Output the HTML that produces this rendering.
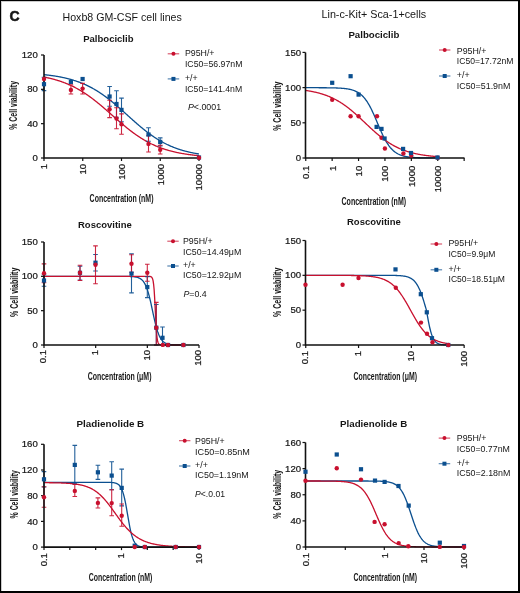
<!DOCTYPE html>
<html><head><meta charset="utf-8"><style>
html,body{margin:0;padding:0;background:#fff;overflow:hidden;}
svg{display:block;font-family:"Liberation Sans",sans-serif;will-change:transform;}
</style></head><body>
<svg width="520" height="593" viewBox="0 0 520 593">
<rect x="0" y="0" width="520" height="593" fill="#fff"/>
<text x="9.6" y="21.3" font-size="14" text-anchor="start" font-weight="bold" fill="#161616" stroke="#161616" stroke-width="0.5">C</text>
<text x="62.5" y="20.8" font-size="10.6" text-anchor="start" textLength="119.3" lengthAdjust="spacingAndGlyphs" fill="#161616">Hoxb8 GM-CSF cell lines</text>
<text x="321.5" y="17.8" font-size="10.4" text-anchor="start" textLength="104.7" lengthAdjust="spacingAndGlyphs" fill="#161616">Lin-c-Kit+ Sca-1+cells</text>
<text x="83.2" y="41.5" font-size="9.9" text-anchor="start" font-weight="bold" textLength="50.3" lengthAdjust="spacingAndGlyphs" fill="#161616">Palbociclib</text>
<polyline points="44,74.66 44.5,74.71 45,74.77 45.5,74.82 45.99,74.87 46.49,74.93 46.99,74.99 47.49,75.04 47.99,75.1 48.49,75.16 48.98,75.22 49.48,75.29 49.98,75.35 50.48,75.42 50.98,75.48 51.48,75.55 51.97,75.62 52.47,75.69 52.97,75.76 53.47,75.83 53.97,75.91 54.47,75.98 54.96,76.06 55.46,76.14 55.96,76.22 56.46,76.3 56.96,76.38 57.46,76.47 57.95,76.56 58.45,76.64 58.95,76.73 59.45,76.83 59.95,76.92 60.45,77.01 60.95,77.11 61.44,77.21 61.94,77.31 62.44,77.41 62.94,77.52 63.44,77.62 63.94,77.73 64.43,77.84 64.93,77.95 65.43,78.07 65.93,78.18 66.43,78.3 66.93,78.42 67.42,78.55 67.92,78.67 68.42,78.8 68.92,78.93 69.42,79.06 69.92,79.19 70.41,79.33 70.91,79.47 71.41,79.61 71.91,79.76 72.41,79.9 72.91,80.05 73.41,80.2 73.9,80.36 74.4,80.51 74.9,80.67 75.4,80.84 75.9,81 76.4,81.17 76.89,81.34 77.39,81.51 77.89,81.69 78.39,81.87 78.89,82.05 79.39,82.23 79.88,82.42 80.38,82.61 80.88,82.81 81.38,83.01 81.88,83.21 82.38,83.41 82.87,83.62 83.37,83.83 83.87,84.04 84.37,84.25 84.87,84.47 85.37,84.7 85.86,84.92 86.36,85.15 86.86,85.39 87.36,85.62 87.86,85.86 88.36,86.11 88.86,86.35 89.35,86.6 89.85,86.86 90.35,87.11 90.85,87.38 91.35,87.64 91.85,87.91 92.34,88.18 92.84,88.46 93.34,88.73 93.84,89.02 94.34,89.3 94.84,89.59 95.33,89.89 95.83,90.18 96.33,90.48 96.83,90.79 97.33,91.1 97.83,91.41 98.32,91.72 98.82,92.04 99.32,92.36 99.82,92.69 100.32,93.02 100.82,93.35 101.32,93.69 101.81,94.03 102.31,94.37 102.81,94.72 103.31,95.07 103.81,95.43 104.31,95.78 104.8,96.15 105.3,96.51 105.8,96.88 106.3,97.25 106.8,97.62 107.3,98 107.79,98.38 108.29,98.77 108.79,99.15 109.29,99.54 109.79,99.93 110.29,100.33 110.78,100.73 111.28,101.13 111.78,101.54 112.28,101.94 112.78,102.35 113.28,102.76 113.77,103.18 114.27,103.6 114.77,104.02 115.27,104.44 115.77,104.86 116.27,105.29 116.77,105.71 117.26,106.14 117.76,106.58 118.26,107.01 118.76,107.45 119.26,107.88 119.76,108.32 120.25,108.76 120.75,109.2 121.25,109.65 121.75,110.09 122.25,110.53 122.75,110.98 123.24,111.43 123.74,111.88 124.24,112.32 124.74,112.77 125.24,113.22 125.74,113.67 126.23,114.12 126.73,114.57 127.23,115.02 127.73,115.47 128.23,115.92 128.73,116.37 129.23,116.82 129.72,117.27 130.22,117.72 130.72,118.17 131.22,118.62 131.72,119.07 132.22,119.51 132.71,119.96 133.21,120.4 133.71,120.85 134.21,121.29 134.71,121.73 135.21,122.17 135.7,122.6 136.2,123.04 136.7,123.47 137.2,123.91 137.7,124.34 138.2,124.77 138.69,125.19 139.19,125.62 139.69,126.04 140.19,126.46 140.69,126.88 141.19,127.29 141.68,127.71 142.18,128.12 142.68,128.52 143.18,128.93 143.68,129.33 144.18,129.73 144.68,130.13 145.17,130.52 145.67,130.91 146.17,131.3 146.67,131.68 147.17,132.07 147.67,132.44 148.16,132.82 148.66,133.19 149.16,133.56 149.66,133.92 150.16,134.29 150.66,134.65 151.15,135 151.65,135.35 152.15,135.7 152.65,136.05 153.15,136.39 153.65,136.72 154.14,137.06 154.64,137.39 155.14,137.72 155.64,138.04 156.14,138.36 156.64,138.68 157.14,138.99 157.63,139.3 158.13,139.6 158.63,139.9 159.13,140.2 159.63,140.5 160.13,140.79 160.62,141.07 161.12,141.36 161.62,141.64 162.12,141.91 162.62,142.19 163.12,142.46 163.61,142.72 164.11,142.98 164.61,143.24 165.11,143.5 165.61,143.75 166.11,144 166.6,144.24 167.1,144.48 167.6,144.72 168.1,144.95 168.6,145.18 169.1,145.41 169.59,145.63 170.09,145.85 170.59,146.07 171.09,146.29 171.59,146.5 172.09,146.7 172.59,146.91 173.08,147.11 173.58,147.31 174.08,147.5 174.58,147.7 175.08,147.88 175.58,148.07 176.07,148.25 176.57,148.43 177.07,148.61 177.57,148.78 178.07,148.96 178.57,149.12 179.06,149.29 179.56,149.45 180.06,149.61 180.56,149.77 181.06,149.93 181.56,150.08 182.05,150.23 182.55,150.37 183.05,150.52 183.55,150.66 184.05,150.8 184.55,150.94 185.05,151.07 185.54,151.21 186.04,151.34 186.54,151.46 187.04,151.59 187.54,151.71 188.04,151.83 188.53,151.95 189.03,152.07 189.53,152.18 190.03,152.3 190.53,152.41 191.03,152.52 191.52,152.62 192.02,152.73 192.52,152.83 193.02,152.93 193.52,153.03 194.02,153.13 194.51,153.23 195.01,153.32 195.51,153.41 196.01,153.5 196.51,153.59 197.01,153.68 197.5,153.76 198,153.85 198.5,153.93 199,154.01" fill="none" stroke="#0b4f8f" stroke-width="1.3" stroke-linejoin="round"/>
<polyline points="44,77.07 44.5,77.17 45,77.26 45.5,77.36 45.99,77.46 46.49,77.57 46.99,77.67 47.49,77.78 47.99,77.89 48.49,78 48.98,78.11 49.48,78.23 49.98,78.34 50.48,78.46 50.98,78.58 51.48,78.7 51.97,78.83 52.47,78.96 52.97,79.09 53.47,79.22 53.97,79.35 54.47,79.49 54.96,79.63 55.46,79.77 55.96,79.91 56.46,80.06 56.96,80.21 57.46,80.36 57.95,80.51 58.45,80.67 58.95,80.83 59.45,80.99 59.95,81.15 60.45,81.32 60.95,81.49 61.44,81.66 61.94,81.84 62.44,82.01 62.94,82.19 63.44,82.38 63.94,82.56 64.43,82.75 64.93,82.94 65.43,83.14 65.93,83.34 66.43,83.54 66.93,83.74 67.42,83.95 67.92,84.16 68.42,84.37 68.92,84.59 69.42,84.81 69.92,85.03 70.41,85.26 70.91,85.49 71.41,85.72 71.91,85.96 72.41,86.2 72.91,86.44 73.41,86.69 73.9,86.94 74.4,87.19 74.9,87.45 75.4,87.71 75.9,87.97 76.4,88.24 76.89,88.51 77.39,88.78 77.89,89.06 78.39,89.34 78.89,89.62 79.39,89.91 79.88,90.2 80.38,90.5 80.88,90.79 81.38,91.09 81.88,91.4 82.38,91.71 82.87,92.02 83.37,92.34 83.87,92.65 84.37,92.98 84.87,93.3 85.37,93.63 85.86,93.96 86.36,94.3 86.86,94.64 87.36,94.98 87.86,95.33 88.36,95.68 88.86,96.03 89.35,96.38 89.85,96.74 90.35,97.11 90.85,97.47 91.35,97.84 91.85,98.21 92.34,98.59 92.84,98.96 93.34,99.34 93.84,99.73 94.34,100.11 94.84,100.5 95.33,100.89 95.83,101.29 96.33,101.68 96.83,102.08 97.33,102.48 97.83,102.89 98.32,103.29 98.82,103.7 99.32,104.11 99.82,104.53 100.32,104.94 100.82,105.36 101.32,105.78 101.81,106.2 102.31,106.62 102.81,107.05 103.31,107.48 103.81,107.9 104.31,108.33 104.8,108.76 105.3,109.2 105.8,109.63 106.3,110.06 106.8,110.5 107.3,110.94 107.79,111.37 108.29,111.81 108.79,112.25 109.29,112.69 109.79,113.13 110.29,113.57 110.78,114.01 111.28,114.45 111.78,114.89 112.28,115.33 112.78,115.77 113.28,116.21 113.77,116.65 114.27,117.1 114.77,117.54 115.27,117.97 115.77,118.41 116.27,118.85 116.77,119.29 117.26,119.72 117.76,120.16 118.26,120.59 118.76,121.03 119.26,121.46 119.76,121.89 120.25,122.32 120.75,122.75 121.25,123.17 121.75,123.6 122.25,124.02 122.75,124.44 123.24,124.86 123.74,125.28 124.24,125.69 124.74,126.11 125.24,126.52 125.74,126.93 126.23,127.33 126.73,127.74 127.23,128.14 127.73,128.54 128.23,128.93 128.73,129.33 129.23,129.72 129.72,130.11 130.22,130.49 130.72,130.87 131.22,131.25 131.72,131.63 132.22,132 132.71,132.38 133.21,132.74 133.71,133.11 134.21,133.47 134.71,133.83 135.21,134.18 135.7,134.54 136.2,134.88 136.7,135.23 137.2,135.57 137.7,135.91 138.2,136.25 138.69,136.58 139.19,136.91 139.69,137.23 140.19,137.55 140.69,137.87 141.19,138.19 141.68,138.5 142.18,138.81 142.68,139.11 143.18,139.41 143.68,139.71 144.18,140 144.68,140.3 145.17,140.58 145.67,140.87 146.17,141.15 146.67,141.42 147.17,141.7 147.67,141.97 148.16,142.23 148.66,142.49 149.16,142.75 149.66,143.01 150.16,143.26 150.66,143.51 151.15,143.76 151.65,144 152.15,144.24 152.65,144.48 153.15,144.71 153.65,144.94 154.14,145.16 154.64,145.39 155.14,145.61 155.64,145.82 156.14,146.04 156.64,146.25 157.14,146.45 157.63,146.66 158.13,146.86 158.63,147.05 159.13,147.25 159.63,147.44 160.13,147.63 160.62,147.82 161.12,148 161.62,148.18 162.12,148.36 162.62,148.53 163.12,148.7 163.61,148.87 164.11,149.04 164.61,149.2 165.11,149.36 165.61,149.52 166.11,149.68 166.6,149.83 167.1,149.98 167.6,150.13 168.1,150.27 168.6,150.42 169.1,150.56 169.59,150.7 170.09,150.83 170.59,150.97 171.09,151.1 171.59,151.23 172.09,151.36 172.59,151.48 173.08,151.6 173.58,151.72 174.08,151.84 174.58,151.96 175.08,152.07 175.58,152.19 176.07,152.3 176.57,152.4 177.07,152.51 177.57,152.62 178.07,152.72 178.57,152.82 179.06,152.92 179.56,153.02 180.06,153.11 180.56,153.21 181.06,153.3 181.56,153.39 182.05,153.48 182.55,153.56 183.05,153.65 183.55,153.73 184.05,153.82 184.55,153.9 185.05,153.98 185.54,154.06 186.04,154.13 186.54,154.21 187.04,154.28 187.54,154.35 188.04,154.42 188.53,154.49 189.03,154.56 189.53,154.63 190.03,154.7 190.53,154.76 191.03,154.82 191.52,154.89 192.02,154.95 192.52,155.01 193.02,155.07 193.52,155.12 194.02,155.18 194.51,155.24 195.01,155.29 195.51,155.34 196.01,155.4 196.51,155.45 197.01,155.5 197.5,155.55 198,155.6 198.5,155.64 199,155.69" fill="none" stroke="#c8102e" stroke-width="1.3" stroke-linejoin="round"/>
<path d="M44 77.3V90.6M41.7 77.3H46.3M41.7 90.6H46.3" stroke="#0b4f8f" stroke-width="1.1" fill="none" opacity="0.9"/>
<path d="M109.6 86.5V106.25M107.3 86.5H111.9M107.3 106.25H111.9" stroke="#0b4f8f" stroke-width="1.1" fill="none" opacity="0.9"/>
<path d="M116.5 90.7V117.3M114.2 90.7H118.8M114.2 117.3H118.8" stroke="#0b4f8f" stroke-width="1.1" fill="none" opacity="0.9"/>
<path d="M121.5 98.1V121.7M119.2 98.1H123.8M119.2 121.7H123.8" stroke="#0b4f8f" stroke-width="1.1" fill="none" opacity="0.9"/>
<path d="M148.5 127.8V141.2M146.2 127.8H150.8M146.2 141.2H150.8" stroke="#0b4f8f" stroke-width="1.1" fill="none" opacity="0.9"/>
<path d="M160.2 137.9V145.9M157.9 137.9H162.5M157.9 145.9H162.5" stroke="#0b4f8f" stroke-width="1.1" fill="none" opacity="0.9"/>
<path d="M70.9 84.8V94M68.6 84.8H73.2M68.6 94H73.2" stroke="#c8102e" stroke-width="1.1" fill="none" opacity="0.9"/>
<path d="M82.6 83.4V94M80.3 83.4H84.9M80.3 94H84.9" stroke="#c8102e" stroke-width="1.1" fill="none" opacity="0.9"/>
<path d="M109.6 100.2V117.6M107.3 100.2H111.9M107.3 117.6H111.9" stroke="#c8102e" stroke-width="1.1" fill="none" opacity="0.9"/>
<path d="M116.5 107.8V128.7M114.2 107.8H118.8M114.2 128.7H118.8" stroke="#c8102e" stroke-width="1.1" fill="none" opacity="0.9"/>
<path d="M121.5 113.9V134.3M119.2 113.9H123.8M119.2 134.3H123.8" stroke="#c8102e" stroke-width="1.1" fill="none" opacity="0.9"/>
<path d="M148.5 135.8V152M146.2 135.8H150.8M146.2 152H150.8" stroke="#c8102e" stroke-width="1.1" fill="none" opacity="0.9"/>
<path d="M160.2 145.3V154M157.9 145.3H162.5M157.9 154H162.5" stroke="#c8102e" stroke-width="1.1" fill="none" opacity="0.9"/>
<path d="M44 55V158H199" stroke="#111111" stroke-width="1.6" fill="none"/>
<path d="M41 158H44" stroke="#111111" stroke-width="1.2"/>
<text x="37.8" y="161.1" font-size="9.6" text-anchor="end" fill="#161616" stroke="#161616" stroke-width="0.22">0</text>
<path d="M41 123.67H44" stroke="#111111" stroke-width="1.2"/>
<text x="37.8" y="126.77" font-size="9.6" text-anchor="end" fill="#161616" stroke="#161616" stroke-width="0.22">40</text>
<path d="M41 89.33H44" stroke="#111111" stroke-width="1.2"/>
<text x="37.8" y="92.43" font-size="9.6" text-anchor="end" fill="#161616" stroke="#161616" stroke-width="0.22">80</text>
<path d="M41 55H44" stroke="#111111" stroke-width="1.2"/>
<text x="37.8" y="58.1" font-size="9.6" text-anchor="end" fill="#161616" stroke="#161616" stroke-width="0.22">120</text>
<path d="M44 158V161" stroke="#111111" stroke-width="1.2"/>
<text x="0" y="0" font-size="9.5" text-anchor="end" transform="translate(47.4,164) rotate(-90)" fill="#161616" stroke="#161616" stroke-width="0.22">1</text>
<path d="M82.75 158V161" stroke="#111111" stroke-width="1.2"/>
<text x="0" y="0" font-size="9.5" text-anchor="end" transform="translate(86.15,164) rotate(-90)" fill="#161616" stroke="#161616" stroke-width="0.22">10</text>
<path d="M121.5 158V161" stroke="#111111" stroke-width="1.2"/>
<text x="0" y="0" font-size="9.5" text-anchor="end" transform="translate(124.9,164) rotate(-90)" fill="#161616" stroke="#161616" stroke-width="0.22">100</text>
<path d="M160.25 158V161" stroke="#111111" stroke-width="1.2"/>
<text x="0" y="0" font-size="9.5" text-anchor="end" transform="translate(163.65,164) rotate(-90)" fill="#161616" stroke="#161616" stroke-width="0.22">1000</text>
<path d="M199 158V161" stroke="#111111" stroke-width="1.2"/>
<text x="0" y="0" font-size="9.5" text-anchor="end" transform="translate(202.4,164) rotate(-90)" fill="#161616" stroke="#161616" stroke-width="0.22">10000</text>
<text x="0" y="0" font-size="10" text-anchor="middle" font-weight="bold" textLength="48.8" lengthAdjust="spacingAndGlyphs" transform="translate(17,105.4) rotate(-90)" fill="#161616">% Cell viability</text>
<text x="89.6" y="202.4" font-size="11" text-anchor="start" font-weight="bold" textLength="63.9" lengthAdjust="spacingAndGlyphs" fill="#161616">Concentration (nM)</text>
<rect x="41.9" y="82.1" width="4.2" height="4.2" fill="#0b4f8f"/>
<rect x="68.8" y="79.8" width="4.2" height="4.2" fill="#0b4f8f"/>
<rect x="80.5" y="76.9" width="4.2" height="4.2" fill="#0b4f8f"/>
<rect x="107.5" y="94.4" width="4.2" height="4.2" fill="#0b4f8f"/>
<rect x="114.4" y="101.9" width="4.2" height="4.2" fill="#0b4f8f"/>
<rect x="119.4" y="107.8" width="4.2" height="4.2" fill="#0b4f8f"/>
<rect x="146.4" y="132.4" width="4.2" height="4.2" fill="#0b4f8f"/>
<rect x="158.1" y="139.8" width="4.2" height="4.2" fill="#0b4f8f"/>
<rect x="196.9" y="155.4" width="4.2" height="4.2" fill="#0b4f8f"/>
<circle cx="44" cy="79" r="2.2" fill="#c8102e"/>
<circle cx="70.9" cy="90" r="2.2" fill="#c8102e"/>
<circle cx="82.6" cy="88.6" r="2.2" fill="#c8102e"/>
<circle cx="109.6" cy="109.2" r="2.2" fill="#c8102e"/>
<circle cx="116.5" cy="118.5" r="2.2" fill="#c8102e"/>
<circle cx="121.5" cy="124.3" r="2.2" fill="#c8102e"/>
<circle cx="148.5" cy="143.9" r="2.2" fill="#c8102e"/>
<circle cx="160.2" cy="149.7" r="2.2" fill="#c8102e"/>
<circle cx="199" cy="157.8" r="2.2" fill="#c8102e"/>
<path d="M167.7 53.8H179.2" stroke="#c8102e" stroke-width="1.1" opacity="0.75"/>
<circle cx="173.45" cy="53.8" r="2.0" fill="#c8102e"/>
<path d="M167.7 78.9H179.2" stroke="#0b4f8f" stroke-width="1.1" opacity="0.75"/>
<rect x="171.45" y="76.9" width="4.0" height="4.0" fill="#0b4f8f"/>
<text x="184.9" y="56.2" font-size="8.8" text-anchor="start" fill="#161616">P95H/+</text>
<text x="184.9" y="66.9" font-size="8.8" text-anchor="start" textLength="57.6" lengthAdjust="spacingAndGlyphs" fill="#161616">IC50=56.97nM</text>
<text x="184.9" y="81.2" font-size="8.8" text-anchor="start" fill="#161616">+/+</text>
<text x="184.9" y="91.5" font-size="8.8" text-anchor="start" textLength="57.3" lengthAdjust="spacingAndGlyphs" fill="#161616">IC50=141.4nM</text>
<text x="187.9" y="110.2" font-size="8.8" text-anchor="start" textLength="33.2" lengthAdjust="spacingAndGlyphs" fill="#161616"><tspan font-style="italic">P</tspan>&lt;.0001</text>
<text x="348.4" y="38.1" font-size="9.9" text-anchor="start" font-weight="bold" textLength="51" lengthAdjust="spacingAndGlyphs" fill="#161616">Palbociclib</text>
<polyline points="305.5,87.7 306,87.7 306.5,87.7 306.99,87.71 307.49,87.71 307.99,87.71 308.49,87.71 308.99,87.71 309.48,87.71 309.98,87.71 310.48,87.71 310.98,87.71 311.48,87.71 311.98,87.71 312.47,87.71 312.97,87.71 313.47,87.71 313.97,87.71 314.47,87.71 314.96,87.72 315.46,87.72 315.96,87.72 316.46,87.72 316.96,87.72 317.45,87.72 317.95,87.72 318.45,87.72 318.95,87.73 319.45,87.73 319.95,87.73 320.44,87.73 320.94,87.73 321.44,87.74 321.94,87.74 322.44,87.74 322.93,87.75 323.43,87.75 323.93,87.75 324.43,87.76 324.93,87.76 325.42,87.76 325.92,87.77 326.42,87.77 326.92,87.78 327.42,87.78 327.92,87.79 328.41,87.79 328.91,87.8 329.41,87.81 329.91,87.82 330.41,87.82 330.9,87.83 331.4,87.84 331.9,87.85 332.4,87.86 332.9,87.87 333.39,87.88 333.89,87.9 334.39,87.91 334.89,87.93 335.39,87.94 335.89,87.96 336.38,87.98 336.88,87.99 337.38,88.02 337.88,88.04 338.38,88.06 338.87,88.09 339.37,88.11 339.87,88.14 340.37,88.17 340.87,88.2 341.36,88.24 341.86,88.28 342.36,88.31 342.86,88.36 343.36,88.4 343.86,88.45 344.35,88.5 344.85,88.56 345.35,88.62 345.85,88.68 346.35,88.75 346.84,88.82 347.34,88.89 347.84,88.98 348.34,89.06 348.84,89.16 349.33,89.26 349.83,89.36 350.33,89.47 350.83,89.59 351.33,89.72 351.83,89.86 352.32,90 352.82,90.16 353.32,90.32 353.82,90.5 354.32,90.68 354.81,90.88 355.31,91.09 355.81,91.32 356.31,91.55 356.81,91.81 357.3,92.07 357.8,92.36 358.3,92.66 358.8,92.98 359.3,93.32 359.8,93.67 360.29,94.05 360.79,94.45 361.29,94.87 361.79,95.32 362.29,95.79 362.78,96.28 363.28,96.8 363.78,97.35 364.28,97.92 364.78,98.52 365.27,99.15 365.77,99.81 366.27,100.5 366.77,101.22 367.27,101.97 367.77,102.75 368.26,103.56 368.76,104.4 369.26,105.27 369.76,106.17 370.26,107.1 370.75,108.06 371.25,109.05 371.75,110.06 372.25,111.1 372.75,112.16 373.24,113.24 373.74,114.34 374.24,115.47 374.74,116.6 375.24,117.75 375.73,118.92 376.23,120.09 376.73,121.26 377.23,122.45 377.73,123.63 378.23,124.81 378.72,125.98 379.22,127.15 379.72,128.31 380.22,129.46 380.72,130.59 381.21,131.71 381.71,132.8 382.21,133.88 382.71,134.93 383.21,135.96 383.7,136.97 384.2,137.94 384.7,138.89 385.2,139.82 385.7,140.71 386.2,141.57 386.69,142.4 387.19,143.2 387.69,143.97 388.19,144.71 388.69,145.42 389.18,146.1 389.68,146.75 390.18,147.37 390.68,147.96 391.18,148.53 391.67,149.07 392.17,149.58 392.67,150.06 393.17,150.53 393.67,150.96 394.17,151.38 394.66,151.77 395.16,152.14 395.66,152.49 396.16,152.82 396.66,153.14 397.15,153.43 397.65,153.71 398.15,153.98 398.65,154.22 399.15,154.46 399.64,154.68 400.14,154.88 400.64,155.08 401.14,155.26 401.64,155.43 402.14,155.59 402.63,155.74 403.13,155.89 403.63,156.02 404.13,156.15 404.63,156.26 405.12,156.37 405.62,156.48 406.12,156.57 406.62,156.66 407.12,156.75 407.61,156.83 408.11,156.9 408.61,156.98 409.11,157.04 409.61,157.1 410.11,157.16 410.6,157.21 411.1,157.26 411.6,157.31 412.1,157.36 412.6,157.4 413.09,157.44 413.59,157.47 414.09,157.51 414.59,157.54 415.09,157.57 415.58,157.6 416.08,157.62 416.58,157.65 417.08,157.67 417.58,157.69 418.08,157.71 418.57,157.73 419.07,157.75 419.57,157.76 420.07,157.78 420.57,157.79 421.06,157.81 421.56,157.82 422.06,157.83 422.56,157.84 423.06,157.85 423.55,157.86 424.05,157.87 424.55,157.88 425.05,157.89 425.55,157.89 426.05,157.9 426.54,157.91 427.04,157.91 427.54,157.92 428.04,157.92 428.54,157.93 429.03,157.93 429.53,157.94 430.03,157.94 430.53,157.95 431.03,157.95 431.52,157.95 432.02,157.96 432.52,157.96 433.02,157.96 433.52,157.96 434.02,157.97 434.51,157.97 435.01,157.97 435.51,157.97 436.01,157.97 436.51,157.98 437,157.98 437.5,157.98 438,157.98" fill="none" stroke="#0b4f8f" stroke-width="1.3" stroke-linejoin="round"/>
<polyline points="305.5,90.42 306,90.49 306.5,90.56 306.99,90.64 307.49,90.72 307.99,90.79 308.49,90.87 308.99,90.96 309.48,91.04 309.98,91.13 310.48,91.22 310.98,91.31 311.48,91.4 311.98,91.5 312.47,91.59 312.97,91.69 313.47,91.8 313.97,91.9 314.47,92.01 314.96,92.12 315.46,92.23 315.96,92.35 316.46,92.46 316.96,92.58 317.45,92.71 317.95,92.83 318.45,92.96 318.95,93.09 319.45,93.23 319.95,93.37 320.44,93.51 320.94,93.65 321.44,93.8 321.94,93.95 322.44,94.11 322.93,94.27 323.43,94.43 323.93,94.59 324.43,94.76 324.93,94.93 325.42,95.11 325.92,95.29 326.42,95.47 326.92,95.66 327.42,95.85 327.92,96.05 328.41,96.25 328.91,96.45 329.41,96.66 329.91,96.87 330.41,97.09 330.9,97.31 331.4,97.53 331.9,97.76 332.4,98 332.9,98.23 333.39,98.48 333.89,98.72 334.39,98.98 334.89,99.23 335.39,99.49 335.89,99.76 336.38,100.03 336.88,100.31 337.38,100.59 337.88,100.87 338.38,101.16 338.87,101.46 339.37,101.76 339.87,102.06 340.37,102.37 340.87,102.68 341.36,103 341.86,103.33 342.36,103.65 342.86,103.99 343.36,104.33 343.86,104.67 344.35,105.02 344.85,105.37 345.35,105.73 345.85,106.09 346.35,106.46 346.84,106.83 347.34,107.2 347.84,107.59 348.34,107.97 348.84,108.36 349.33,108.75 349.83,109.15 350.33,109.55 350.83,109.96 351.33,110.37 351.83,110.79 352.32,111.2 352.82,111.63 353.32,112.05 353.82,112.48 354.32,112.91 354.81,113.35 355.31,113.79 355.81,114.23 356.31,114.67 356.81,115.12 357.3,115.57 357.8,116.03 358.3,116.48 358.8,116.94 359.3,117.4 359.8,117.86 360.29,118.32 360.79,118.79 361.29,119.25 361.79,119.72 362.29,120.19 362.78,120.66 363.28,121.13 363.78,121.6 364.28,122.07 364.78,122.54 365.27,123.02 365.77,123.49 366.27,123.96 366.77,124.43 367.27,124.9 367.77,125.37 368.26,125.84 368.76,126.31 369.26,126.77 369.76,127.24 370.26,127.7 370.75,128.16 371.25,128.62 371.75,129.08 372.25,129.54 372.75,129.99 373.24,130.44 373.74,130.89 374.24,131.34 374.74,131.78 375.24,132.22 375.73,132.66 376.23,133.09 376.73,133.52 377.23,133.95 377.73,134.37 378.23,134.79 378.72,135.21 379.22,135.62 379.72,136.02 380.22,136.43 380.72,136.83 381.21,137.22 381.71,137.61 382.21,138 382.71,138.38 383.21,138.76 383.7,139.13 384.2,139.5 384.7,139.86 385.2,140.22 385.7,140.58 386.2,140.93 386.69,141.27 387.19,141.61 387.69,141.95 388.19,142.28 388.69,142.6 389.18,142.92 389.68,143.24 390.18,143.55 390.68,143.85 391.18,144.16 391.67,144.45 392.17,144.74 392.67,145.03 393.17,145.31 393.67,145.59 394.17,145.86 394.66,146.13 395.16,146.39 395.66,146.65 396.16,146.9 396.66,147.15 397.15,147.39 397.65,147.63 398.15,147.87 398.65,148.1 399.15,148.32 399.64,148.55 400.14,148.76 400.64,148.98 401.14,149.19 401.64,149.39 402.14,149.59 402.63,149.79 403.13,149.98 403.63,150.17 404.13,150.36 404.63,150.54 405.12,150.71 405.62,150.89 406.12,151.06 406.62,151.22 407.12,151.39 407.61,151.54 408.11,151.7 408.61,151.85 409.11,152 409.61,152.15 410.11,152.29 410.6,152.43 411.1,152.57 411.6,152.7 412.1,152.83 412.6,152.96 413.09,153.08 413.59,153.2 414.09,153.32 414.59,153.44 415.09,153.55 415.58,153.66 416.08,153.77 416.58,153.87 417.08,153.98 417.58,154.08 418.08,154.18 418.57,154.27 419.07,154.36 419.57,154.46 420.07,154.55 420.57,154.63 421.06,154.72 421.56,154.8 422.06,154.88 422.56,154.96 423.06,155.04 423.55,155.11 424.05,155.19 424.55,155.26 425.05,155.33 425.55,155.4 426.05,155.46 426.54,155.53 427.04,155.59 427.54,155.65 428.04,155.71 428.54,155.77 429.03,155.83 429.53,155.88 430.03,155.94 430.53,155.99 431.03,156.04 431.52,156.09 432.02,156.14 432.52,156.19 433.02,156.24 433.52,156.28 434.02,156.33 434.51,156.37 435.01,156.41 435.51,156.45 436.01,156.49 436.51,156.53 437,156.57 437.5,156.61 438,156.64" fill="none" stroke="#c8102e" stroke-width="1.3" stroke-linejoin="round"/>
<path d="M305.5 52.4V158H464.5" stroke="#111111" stroke-width="1.6" fill="none"/>
<path d="M302.5 158H305.5" stroke="#111111" stroke-width="1.2"/>
<text x="301.1" y="161.1" font-size="9.6" text-anchor="end" fill="#161616" stroke="#161616" stroke-width="0.22">0</text>
<path d="M302.5 122.8H305.5" stroke="#111111" stroke-width="1.2"/>
<text x="301.1" y="125.9" font-size="9.6" text-anchor="end" fill="#161616" stroke="#161616" stroke-width="0.22">50</text>
<path d="M302.5 87.6H305.5" stroke="#111111" stroke-width="1.2"/>
<text x="301.1" y="90.7" font-size="9.6" text-anchor="end" fill="#161616" stroke="#161616" stroke-width="0.22">100</text>
<path d="M302.5 52.4H305.5" stroke="#111111" stroke-width="1.2"/>
<text x="301.1" y="55.5" font-size="9.6" text-anchor="end" fill="#161616" stroke="#161616" stroke-width="0.22">150</text>
<path d="M305.75 158V161" stroke="#111111" stroke-width="1.2"/>
<text x="0" y="0" font-size="9.5" text-anchor="end" transform="translate(309.15,165.8) rotate(-90)" fill="#161616" stroke="#161616" stroke-width="0.22">0.1</text>
<path d="M332.15 158V161" stroke="#111111" stroke-width="1.2"/>
<text x="0" y="0" font-size="9.5" text-anchor="end" transform="translate(335.55,165.8) rotate(-90)" fill="#161616" stroke="#161616" stroke-width="0.22">1</text>
<path d="M358.55 158V161" stroke="#111111" stroke-width="1.2"/>
<text x="0" y="0" font-size="9.5" text-anchor="end" transform="translate(361.95,165.8) rotate(-90)" fill="#161616" stroke="#161616" stroke-width="0.22">10</text>
<path d="M384.95 158V161" stroke="#111111" stroke-width="1.2"/>
<text x="0" y="0" font-size="9.5" text-anchor="end" transform="translate(388.35,165.8) rotate(-90)" fill="#161616" stroke="#161616" stroke-width="0.22">100</text>
<path d="M411.35 158V161" stroke="#111111" stroke-width="1.2"/>
<text x="0" y="0" font-size="9.5" text-anchor="end" transform="translate(414.75,165.8) rotate(-90)" fill="#161616" stroke="#161616" stroke-width="0.22">1000</text>
<path d="M437.75 158V161" stroke="#111111" stroke-width="1.2"/>
<text x="0" y="0" font-size="9.5" text-anchor="end" transform="translate(441.15,165.8) rotate(-90)" fill="#161616" stroke="#161616" stroke-width="0.22">10000</text>
<path d="M464.15 158V161" stroke="#111111" stroke-width="1.2"/>
<text x="0" y="0" font-size="10" text-anchor="middle" font-weight="bold" textLength="49.3" lengthAdjust="spacingAndGlyphs" transform="translate(281.4,106.2) rotate(-90)" fill="#161616">% Cell viability</text>
<text x="341.5" y="204.6" font-size="11" text-anchor="start" font-weight="bold" textLength="64.6" lengthAdjust="spacingAndGlyphs" fill="#161616">Concentration (nM)</text>
<circle cx="332.2" cy="99.7" r="2.2" fill="#c8102e"/>
<circle cx="350.6" cy="116.2" r="2.2" fill="#c8102e"/>
<circle cx="358.6" cy="116.2" r="2.2" fill="#c8102e"/>
<circle cx="377" cy="116.2" r="2.2" fill="#c8102e"/>
<circle cx="381.5" cy="137.7" r="2.2" fill="#c8102e"/>
<circle cx="384.9" cy="148.5" r="2.2" fill="#c8102e"/>
<circle cx="403.4" cy="153.5" r="2.2" fill="#c8102e"/>
<circle cx="411.3" cy="155.5" r="2.2" fill="#c8102e"/>
<circle cx="437.7" cy="157.8" r="2.2" fill="#c8102e"/>
<rect x="330.1" y="80.7" width="4.2" height="4.2" fill="#0b4f8f"/>
<rect x="348.5" y="74.1" width="4.2" height="4.2" fill="#0b4f8f"/>
<rect x="356.5" y="92.5" width="4.2" height="4.2" fill="#0b4f8f"/>
<rect x="374.5" y="124.8" width="4.2" height="4.2" fill="#0b4f8f"/>
<rect x="379.4" y="126.8" width="4.2" height="4.2" fill="#0b4f8f"/>
<rect x="382.5" y="136.4" width="4.2" height="4.2" fill="#0b4f8f"/>
<rect x="401" y="146.8" width="4.2" height="4.2" fill="#0b4f8f"/>
<rect x="408.9" y="150.9" width="4.2" height="4.2" fill="#0b4f8f"/>
<rect x="435.4" y="155.4" width="4.2" height="4.2" fill="#0b4f8f"/>
<path d="M439 50H450.4" stroke="#c8102e" stroke-width="1.1" opacity="0.75"/>
<circle cx="444.7" cy="50" r="2.0" fill="#c8102e"/>
<path d="M439 76H450.4" stroke="#0b4f8f" stroke-width="1.1" opacity="0.75"/>
<rect x="442.7" y="74" width="4.0" height="4.0" fill="#0b4f8f"/>
<text x="456.8" y="53.5" font-size="8.8" text-anchor="start" fill="#161616">P95H/+</text>
<text x="456.8" y="63.9" font-size="8.8" text-anchor="start" textLength="56.6" lengthAdjust="spacingAndGlyphs" fill="#161616">IC50=17.72nM</text>
<text x="456.8" y="78.4" font-size="8.8" text-anchor="start" fill="#161616">+/+</text>
<text x="456.8" y="88.8" font-size="8.8" text-anchor="start" textLength="53.6" lengthAdjust="spacingAndGlyphs" fill="#161616">IC50=51.9nM</text>
<text x="78" y="227.7" font-size="9.9" text-anchor="start" font-weight="bold" textLength="53.8" lengthAdjust="spacingAndGlyphs" fill="#161616">Roscovitine</text>
<polyline points="44,276.33 44.5,276.33 45,276.33 45.49,276.33 45.99,276.33 46.49,276.33 46.99,276.33 47.49,276.33 47.99,276.33 48.48,276.33 48.98,276.33 49.48,276.33 49.98,276.33 50.48,276.33 50.98,276.33 51.47,276.33 51.97,276.33 52.47,276.33 52.97,276.33 53.47,276.33 53.96,276.33 54.46,276.33 54.96,276.33 55.46,276.33 55.96,276.33 56.46,276.33 56.95,276.33 57.45,276.33 57.95,276.33 58.45,276.33 58.95,276.33 59.44,276.33 59.94,276.33 60.44,276.33 60.94,276.33 61.44,276.33 61.94,276.33 62.43,276.33 62.93,276.33 63.43,276.33 63.93,276.33 64.43,276.33 64.92,276.33 65.42,276.33 65.92,276.33 66.42,276.33 66.92,276.33 67.42,276.33 67.91,276.33 68.41,276.33 68.91,276.33 69.41,276.33 69.91,276.33 70.41,276.33 70.9,276.33 71.4,276.33 71.9,276.33 72.4,276.33 72.9,276.33 73.39,276.33 73.89,276.33 74.39,276.33 74.89,276.33 75.39,276.33 75.89,276.33 76.38,276.33 76.88,276.33 77.38,276.33 77.88,276.33 78.38,276.33 78.88,276.33 79.37,276.33 79.87,276.33 80.37,276.33 80.87,276.33 81.37,276.33 81.86,276.33 82.36,276.33 82.86,276.33 83.36,276.33 83.86,276.33 84.36,276.33 84.85,276.33 85.35,276.33 85.85,276.33 86.35,276.33 86.85,276.33 87.34,276.33 87.84,276.33 88.34,276.33 88.84,276.33 89.34,276.33 89.84,276.33 90.33,276.33 90.83,276.33 91.33,276.33 91.83,276.33 92.33,276.33 92.83,276.33 93.32,276.33 93.82,276.33 94.32,276.33 94.82,276.33 95.32,276.33 95.81,276.33 96.31,276.33 96.81,276.33 97.31,276.33 97.81,276.33 98.31,276.33 98.8,276.33 99.3,276.33 99.8,276.33 100.3,276.33 100.8,276.33 101.29,276.33 101.79,276.33 102.29,276.33 102.79,276.33 103.29,276.33 103.79,276.33 104.28,276.33 104.78,276.33 105.28,276.33 105.78,276.33 106.28,276.33 106.78,276.33 107.27,276.33 107.77,276.33 108.27,276.33 108.77,276.33 109.27,276.33 109.76,276.33 110.26,276.33 110.76,276.33 111.26,276.33 111.76,276.33 112.26,276.33 112.75,276.33 113.25,276.33 113.75,276.33 114.25,276.33 114.75,276.33 115.24,276.33 115.74,276.33 116.24,276.33 116.74,276.33 117.24,276.33 117.74,276.33 118.23,276.34 118.73,276.34 119.23,276.34 119.73,276.34 120.23,276.34 120.72,276.34 121.22,276.34 121.72,276.34 122.22,276.35 122.72,276.35 123.22,276.35 123.71,276.36 124.21,276.36 124.71,276.36 125.21,276.37 125.71,276.37 126.21,276.38 126.7,276.39 127.2,276.4 127.7,276.4 128.2,276.42 128.7,276.43 129.19,276.44 129.69,276.46 130.19,276.48 130.69,276.5 131.19,276.53 131.69,276.55 132.18,276.59 132.68,276.62 133.18,276.67 133.68,276.72 134.18,276.77 134.68,276.84 135.17,276.91 135.67,276.99 136.17,277.09 136.67,277.2 137.17,277.33 137.66,277.47 138.16,277.64 138.66,277.82 139.16,278.04 139.66,278.28 140.16,278.56 140.65,278.87 141.15,279.23 141.65,279.64 142.15,280.1 142.65,280.62 143.14,281.2 143.64,281.86 144.14,282.59 144.64,283.42 145.14,284.34 145.64,285.36 146.13,286.49 146.63,287.73 147.13,289.1 147.63,290.58 148.13,292.19 148.62,293.93 149.12,295.78 149.62,297.74 150.12,299.81 150.62,301.97 151.12,304.21 151.61,306.5 152.11,308.84 152.61,311.19 153.11,313.53 153.61,315.85 154.11,318.12 154.6,320.33 155.1,322.45 155.6,324.47 156.1,326.39 156.6,328.19 157.09,329.87 157.59,331.42 158.09,332.85 158.59,334.16 159.09,335.36 159.59,336.44 160.08,337.41 160.58,338.29 161.08,339.07 161.58,339.77 162.08,340.4 162.57,340.95 163.07,341.44 163.57,341.88 164.07,342.26 164.57,342.6 165.07,342.9 165.56,343.16 166.06,343.39 166.56,343.59 167.06,343.77 167.56,343.92 168.06,344.06 168.55,344.18 169.05,344.28 169.55,344.37 170.05,344.45 170.55,344.52 171.04,344.58 171.54,344.64 172.04,344.68 172.54,344.72 173.04,344.76 173.54,344.79 174.03,344.82 174.53,344.84 175.03,344.86 175.53,344.88 176.03,344.89 176.53,344.91 177.02,344.92 177.52,344.93 178.02,344.94 178.52,344.95 179.02,344.95 179.51,344.96 180.01,344.96 180.51,344.97 181.01,344.97 181.51,344.98 182.01,344.98 182.5,344.98 183,344.98 183.5,344.99" fill="none" stroke="#0b4f8f" stroke-width="1.3" stroke-linejoin="round"/>
<polyline points="44,276.33 44.5,276.33 45,276.33 45.49,276.33 45.99,276.33 46.49,276.33 46.99,276.33 47.49,276.33 47.99,276.33 48.48,276.33 48.98,276.33 49.48,276.33 49.98,276.33 50.48,276.33 50.98,276.33 51.47,276.33 51.97,276.33 52.47,276.33 52.97,276.33 53.47,276.33 53.96,276.33 54.46,276.33 54.96,276.33 55.46,276.33 55.96,276.33 56.46,276.33 56.95,276.33 57.45,276.33 57.95,276.33 58.45,276.33 58.95,276.33 59.44,276.33 59.94,276.33 60.44,276.33 60.94,276.33 61.44,276.33 61.94,276.33 62.43,276.33 62.93,276.33 63.43,276.33 63.93,276.33 64.43,276.33 64.92,276.33 65.42,276.33 65.92,276.33 66.42,276.33 66.92,276.33 67.42,276.33 67.91,276.33 68.41,276.33 68.91,276.33 69.41,276.33 69.91,276.33 70.41,276.33 70.9,276.33 71.4,276.33 71.9,276.33 72.4,276.33 72.9,276.33 73.39,276.33 73.89,276.33 74.39,276.33 74.89,276.33 75.39,276.33 75.89,276.33 76.38,276.33 76.88,276.33 77.38,276.33 77.88,276.33 78.38,276.33 78.88,276.33 79.37,276.33 79.87,276.33 80.37,276.33 80.87,276.33 81.37,276.33 81.86,276.33 82.36,276.33 82.86,276.33 83.36,276.33 83.86,276.33 84.36,276.33 84.85,276.33 85.35,276.33 85.85,276.33 86.35,276.33 86.85,276.33 87.34,276.33 87.84,276.33 88.34,276.33 88.84,276.33 89.34,276.33 89.84,276.33 90.33,276.33 90.83,276.33 91.33,276.33 91.83,276.33 92.33,276.33 92.83,276.33 93.32,276.33 93.82,276.33 94.32,276.33 94.82,276.33 95.32,276.33 95.81,276.33 96.31,276.33 96.81,276.33 97.31,276.33 97.81,276.33 98.31,276.33 98.8,276.33 99.3,276.33 99.8,276.33 100.3,276.33 100.8,276.33 101.29,276.33 101.79,276.33 102.29,276.33 102.79,276.33 103.29,276.33 103.79,276.33 104.28,276.33 104.78,276.33 105.28,276.33 105.78,276.33 106.28,276.33 106.78,276.33 107.27,276.33 107.77,276.33 108.27,276.33 108.77,276.33 109.27,276.33 109.76,276.33 110.26,276.33 110.76,276.33 111.26,276.33 111.76,276.33 112.26,276.33 112.75,276.33 113.25,276.33 113.75,276.33 114.25,276.33 114.75,276.33 115.24,276.33 115.74,276.33 116.24,276.33 116.74,276.33 117.24,276.33 117.74,276.33 118.23,276.33 118.73,276.33 119.23,276.33 119.73,276.33 120.23,276.33 120.72,276.33 121.22,276.33 121.72,276.33 122.22,276.33 122.72,276.33 123.22,276.33 123.71,276.33 124.21,276.33 124.71,276.33 125.21,276.33 125.71,276.33 126.21,276.33 126.7,276.33 127.2,276.33 127.7,276.33 128.2,276.33 128.7,276.33 129.19,276.33 129.69,276.33 130.19,276.33 130.69,276.33 131.19,276.33 131.69,276.33 132.18,276.33 132.68,276.33 133.18,276.33 133.68,276.33 134.18,276.33 134.68,276.33 135.17,276.33 135.67,276.33 136.17,276.33 136.67,276.33 137.17,276.33 137.66,276.33 138.16,276.33 138.66,276.33 139.16,276.33 139.66,276.33 140.16,276.33 140.65,276.33 141.15,276.33 141.65,276.33 142.15,276.33 142.65,276.33 143.14,276.33 143.64,276.33 144.14,276.33 144.64,276.33 145.14,276.33 145.64,276.33 146.13,276.33 146.63,276.33 147.13,276.33 147.63,276.34 148.13,276.34 148.62,276.35 149.12,276.37 149.62,276.41 150.12,276.47 150.62,276.58 151.12,276.78 151.61,277.14 152.11,277.8 152.61,278.95 153.11,280.95 153.61,284.29 154.11,289.55 154.6,297.1 155.1,306.6 155.6,316.78 156.1,325.96 156.6,333.03 157.09,337.86 157.59,340.88 158.09,342.67 158.59,343.7 159.09,344.28 159.59,344.6 160.08,344.78 160.58,344.88 161.08,344.93 161.58,344.96 162.08,344.98 162.57,344.99 163.07,344.99 163.57,345 164.07,345 164.57,345 165.07,345 165.56,345 166.06,345 166.56,345 167.06,345 167.56,345 168.06,345 168.55,345 169.05,345 169.55,345 170.05,345 170.55,345 171.04,345 171.54,345 172.04,345 172.54,345 173.04,345 173.54,345 174.03,345 174.53,345 175.03,345 175.53,345 176.03,345 176.53,345 177.02,345 177.52,345 178.02,345 178.52,345 179.02,345 179.51,345 180.01,345 180.51,345 181.01,345 181.51,345 182.01,345 182.5,345 183,345 183.5,345" fill="none" stroke="#c8102e" stroke-width="1.3" stroke-linejoin="round"/>
<path d="M44 274.7V286.3M41.7 274.7H46.3M41.7 286.3H46.3" stroke="#0b4f8f" stroke-width="1.1" fill="none" opacity="0.9"/>
<path d="M80 266.3V280M77.7 266.3H82.3M77.7 280H82.3" stroke="#0b4f8f" stroke-width="1.1" fill="none" opacity="0.9"/>
<path d="M95.5 254.5V271M93.2 254.5H97.8M93.2 271H97.8" stroke="#0b4f8f" stroke-width="1.1" fill="none" opacity="0.9"/>
<path d="M131.5 253.7V292.9M129.2 253.7H133.8M129.2 292.9H133.8" stroke="#0b4f8f" stroke-width="1.1" fill="none" opacity="0.9"/>
<path d="M147.3 276.6V297.6M145 276.6H149.6M145 297.6H149.6" stroke="#0b4f8f" stroke-width="1.1" fill="none" opacity="0.9"/>
<path d="M156.3 304.5V345M154 304.5H158.6M154 345H158.6" stroke="#0b4f8f" stroke-width="1.1" fill="none" opacity="0.9"/>
<path d="M162.5 327V345M160.2 327H164.8M160.2 345H164.8" stroke="#0b4f8f" stroke-width="1.1" fill="none" opacity="0.9"/>
<path d="M44 263.9V282.7M41.7 263.9H46.3M41.7 282.7H46.3" stroke="#c8102e" stroke-width="1.1" fill="none" opacity="0.9"/>
<path d="M80 265.3V280.5M77.7 265.3H82.3M77.7 280.5H82.3" stroke="#c8102e" stroke-width="1.1" fill="none" opacity="0.9"/>
<path d="M95.5 245.9V283.8M93.2 245.9H97.8M93.2 283.8H97.8" stroke="#c8102e" stroke-width="1.1" fill="none" opacity="0.9"/>
<path d="M131.5 254.8V272.3M129.2 254.8H133.8M129.2 272.3H133.8" stroke="#c8102e" stroke-width="1.1" fill="none" opacity="0.9"/>
<path d="M147.3 264.2V281.3M145 264.2H149.6M145 281.3H149.6" stroke="#c8102e" stroke-width="1.1" fill="none" opacity="0.9"/>
<path d="M156.3 302.4V345M154 302.4H158.6M154 345H158.6" stroke="#c8102e" stroke-width="1.1" fill="none" opacity="0.9"/>
<path d="M44 242V345H199" stroke="#111111" stroke-width="1.6" fill="none"/>
<path d="M41 345H44" stroke="#111111" stroke-width="1.2"/>
<text x="37.8" y="348.1" font-size="9.6" text-anchor="end" fill="#161616" stroke="#161616" stroke-width="0.22">0</text>
<path d="M41 310.67H44" stroke="#111111" stroke-width="1.2"/>
<text x="37.8" y="313.77" font-size="9.6" text-anchor="end" fill="#161616" stroke="#161616" stroke-width="0.22">50</text>
<path d="M41 276.33H44" stroke="#111111" stroke-width="1.2"/>
<text x="37.8" y="279.43" font-size="9.6" text-anchor="end" fill="#161616" stroke="#161616" stroke-width="0.22">100</text>
<path d="M41 242H44" stroke="#111111" stroke-width="1.2"/>
<text x="37.8" y="245.1" font-size="9.6" text-anchor="end" fill="#161616" stroke="#161616" stroke-width="0.22">150</text>
<path d="M44 345V348" stroke="#111111" stroke-width="1.2"/>
<text x="0" y="0" font-size="9.5" text-anchor="end" transform="translate(46.4,350) rotate(-90)" fill="#161616" stroke="#161616" stroke-width="0.22">0.1</text>
<path d="M95.67 345V348" stroke="#111111" stroke-width="1.2"/>
<text x="0" y="0" font-size="9.5" text-anchor="end" transform="translate(98.07,350) rotate(-90)" fill="#161616" stroke="#161616" stroke-width="0.22">1</text>
<path d="M147.34 345V348" stroke="#111111" stroke-width="1.2"/>
<text x="0" y="0" font-size="9.5" text-anchor="end" transform="translate(149.74,350) rotate(-90)" fill="#161616" stroke="#161616" stroke-width="0.22">10</text>
<path d="M199.01 345V348" stroke="#111111" stroke-width="1.2"/>
<text x="0" y="0" font-size="9.5" text-anchor="end" transform="translate(201.41,350) rotate(-90)" fill="#161616" stroke="#161616" stroke-width="0.22">100</text>
<text x="0" y="0" font-size="10" text-anchor="middle" font-weight="bold" textLength="49.3" lengthAdjust="spacingAndGlyphs" transform="translate(18.2,292.3) rotate(-90)" fill="#161616">% Cell viability</text>
<text x="87.7" y="380.4" font-size="11" text-anchor="start" font-weight="bold" textLength="63.8" lengthAdjust="spacingAndGlyphs" fill="#161616">Concentration (&#956;M)</text>
<rect x="41.9" y="278.4" width="4.2" height="4.2" fill="#0b4f8f"/>
<rect x="77.9" y="270.7" width="4.2" height="4.2" fill="#0b4f8f"/>
<rect x="93.4" y="260.6" width="4.2" height="4.2" fill="#0b4f8f"/>
<rect x="129.4" y="271.5" width="4.2" height="4.2" fill="#0b4f8f"/>
<rect x="145.2" y="285" width="4.2" height="4.2" fill="#0b4f8f"/>
<rect x="154.2" y="325.6" width="4.2" height="4.2" fill="#0b4f8f"/>
<rect x="160.4" y="335.7" width="4.2" height="4.2" fill="#0b4f8f"/>
<rect x="165.9" y="342.9" width="4.2" height="4.2" fill="#0b4f8f"/>
<rect x="181.3" y="342.9" width="4.2" height="4.2" fill="#0b4f8f"/>
<circle cx="44" cy="273.3" r="2.2" fill="#c8102e"/>
<circle cx="80" cy="272.8" r="2.2" fill="#c8102e"/>
<circle cx="95.5" cy="264.7" r="2.2" fill="#c8102e"/>
<circle cx="131.5" cy="263.8" r="2.2" fill="#c8102e"/>
<circle cx="147.3" cy="272.7" r="2.2" fill="#c8102e"/>
<circle cx="156.3" cy="327.7" r="2.2" fill="#c8102e"/>
<circle cx="162.8" cy="344.9" r="2.2" fill="#c8102e"/>
<circle cx="168" cy="345" r="2.2" fill="#c8102e"/>
<circle cx="183.4" cy="345" r="2.2" fill="#c8102e"/>
<path d="M167.3 241.2H178.7" stroke="#c8102e" stroke-width="1.1" opacity="0.75"/>
<circle cx="173" cy="241.2" r="2.0" fill="#c8102e"/>
<path d="M167.3 266H178.7" stroke="#0b4f8f" stroke-width="1.1" opacity="0.75"/>
<rect x="171" y="264" width="4.0" height="4.0" fill="#0b4f8f"/>
<text x="183" y="244.2" font-size="8.8" text-anchor="start" fill="#161616">P95H/+</text>
<text x="183" y="254.6" font-size="8.8" text-anchor="start" textLength="58.3" lengthAdjust="spacingAndGlyphs" fill="#161616">IC50=14.49&#956;M</text>
<text x="183" y="268.4" font-size="8.8" text-anchor="start" fill="#161616">+/+</text>
<text x="183" y="278.4" font-size="8.8" text-anchor="start" textLength="58.3" lengthAdjust="spacingAndGlyphs" fill="#161616">IC50=12.92&#956;M</text>
<text x="183.4" y="296.6" font-size="8.8" text-anchor="start" textLength="23.3" lengthAdjust="spacingAndGlyphs" fill="#161616"><tspan font-style="italic">P</tspan>=0.4</text>
<text x="347" y="225.4" font-size="9.9" text-anchor="start" font-weight="bold" textLength="53.8" lengthAdjust="spacingAndGlyphs" fill="#161616">Roscovitine</text>
<polyline points="305.5,275.33 306,275.33 306.5,275.33 307,275.33 307.5,275.33 308,275.33 308.5,275.33 309,275.33 309.49,275.33 309.99,275.33 310.49,275.33 310.99,275.33 311.49,275.33 311.99,275.33 312.49,275.33 312.99,275.33 313.49,275.33 313.99,275.33 314.49,275.33 314.99,275.33 315.49,275.33 315.99,275.33 316.48,275.33 316.98,275.33 317.48,275.33 317.98,275.33 318.48,275.33 318.98,275.33 319.48,275.33 319.98,275.33 320.48,275.33 320.98,275.33 321.48,275.33 321.98,275.33 322.48,275.33 322.98,275.33 323.47,275.33 323.97,275.33 324.47,275.33 324.97,275.33 325.47,275.33 325.97,275.33 326.47,275.33 326.97,275.33 327.47,275.33 327.97,275.33 328.47,275.33 328.97,275.33 329.47,275.33 329.97,275.33 330.47,275.33 330.96,275.33 331.46,275.33 331.96,275.33 332.46,275.33 332.96,275.33 333.46,275.33 333.96,275.33 334.46,275.33 334.96,275.33 335.46,275.33 335.96,275.33 336.46,275.33 336.96,275.33 337.46,275.33 337.95,275.33 338.45,275.33 338.95,275.33 339.45,275.33 339.95,275.33 340.45,275.33 340.95,275.33 341.45,275.33 341.95,275.33 342.45,275.33 342.95,275.33 343.45,275.33 343.95,275.33 344.45,275.33 344.94,275.33 345.44,275.33 345.94,275.33 346.44,275.33 346.94,275.33 347.44,275.33 347.94,275.33 348.44,275.33 348.94,275.33 349.44,275.33 349.94,275.33 350.44,275.33 350.94,275.33 351.44,275.33 351.93,275.33 352.43,275.33 352.93,275.33 353.43,275.33 353.93,275.33 354.43,275.33 354.93,275.33 355.43,275.33 355.93,275.33 356.43,275.33 356.93,275.33 357.43,275.33 357.93,275.33 358.43,275.33 358.93,275.33 359.42,275.33 359.92,275.33 360.42,275.33 360.92,275.33 361.42,275.33 361.92,275.33 362.42,275.33 362.92,275.33 363.42,275.33 363.92,275.33 364.42,275.33 364.92,275.33 365.42,275.33 365.92,275.33 366.41,275.33 366.91,275.33 367.41,275.33 367.91,275.33 368.41,275.33 368.91,275.33 369.41,275.33 369.91,275.33 370.41,275.33 370.91,275.33 371.41,275.33 371.91,275.33 372.41,275.33 372.91,275.33 373.4,275.33 373.9,275.33 374.4,275.33 374.9,275.33 375.4,275.33 375.9,275.33 376.4,275.33 376.9,275.33 377.4,275.33 377.9,275.33 378.4,275.33 378.9,275.34 379.4,275.34 379.9,275.34 380.4,275.34 380.89,275.34 381.39,275.34 381.89,275.34 382.39,275.34 382.89,275.34 383.39,275.34 383.89,275.34 384.39,275.35 384.89,275.35 385.39,275.35 385.89,275.35 386.39,275.35 386.89,275.36 387.39,275.36 387.88,275.36 388.38,275.36 388.88,275.37 389.38,275.37 389.88,275.38 390.38,275.38 390.88,275.39 391.38,275.39 391.88,275.4 392.38,275.41 392.88,275.42 393.38,275.42 393.88,275.43 394.38,275.45 394.87,275.46 395.37,275.47 395.87,275.49 396.37,275.5 396.87,275.52 397.37,275.54 397.87,275.56 398.37,275.59 398.87,275.61 399.37,275.64 399.87,275.67 400.37,275.71 400.87,275.75 401.37,275.79 401.87,275.84 402.36,275.89 402.86,275.95 403.36,276.02 403.86,276.09 404.36,276.17 404.86,276.26 405.36,276.35 405.86,276.46 406.36,276.57 406.86,276.7 407.36,276.84 407.86,277 408.36,277.17 408.86,277.35 409.35,277.56 409.85,277.79 410.35,278.03 410.85,278.31 411.35,278.6 411.85,278.93 412.35,279.29 412.85,279.68 413.35,280.1 413.85,280.56 414.35,281.07 414.85,281.62 415.35,282.21 415.85,282.86 416.34,283.55 416.84,284.31 417.34,285.12 417.84,285.99 418.34,286.92 418.84,287.92 419.34,288.98 419.84,290.11 420.34,291.31 420.84,292.57 421.34,293.9 421.84,295.29 422.34,296.74 422.84,298.25 423.33,299.81 423.83,301.42 424.33,303.07 424.83,304.75 425.33,306.46 425.83,308.19 426.33,309.92 426.83,312.63 427.33,315.47 427.83,318.23 428.33,320.89 428.83,323.42 429.33,325.79 429.83,328 430.33,330.02 430.82,331.87 431.32,333.54 431.82,335.03 432.32,336.36 432.82,337.53 433.32,338.56 433.82,339.46 434.32,340.24 434.82,340.92 435.32,341.51 435.82,342.02 436.32,342.46 436.82,342.83 437.32,343.15 437.81,343.43 438.31,343.66 438.81,343.86 439.31,344.03 439.81,344.18 440.31,344.3 440.81,344.41 441.31,344.5 441.81,344.57 442.31,344.64 442.81,344.69 443.31,344.74 443.81,344.78 444.31,344.81 444.8,344.84 445.3,344.86 445.8,344.88 446.3,344.9 446.8,344.92 447.3,344.93 447.8,344.94 448.3,344.95" fill="none" stroke="#0b4f8f" stroke-width="1.3" stroke-linejoin="round"/>
<polyline points="305.5,275.33 306,275.33 306.5,275.33 307,275.33 307.5,275.33 308,275.33 308.5,275.33 309,275.33 309.49,275.33 309.99,275.33 310.49,275.33 310.99,275.33 311.49,275.33 311.99,275.33 312.49,275.33 312.99,275.33 313.49,275.33 313.99,275.33 314.49,275.33 314.99,275.33 315.49,275.33 315.99,275.33 316.48,275.33 316.98,275.33 317.48,275.33 317.98,275.33 318.48,275.33 318.98,275.34 319.48,275.34 319.98,275.34 320.48,275.34 320.98,275.34 321.48,275.34 321.98,275.34 322.48,275.34 322.98,275.34 323.47,275.34 323.97,275.34 324.47,275.34 324.97,275.34 325.47,275.34 325.97,275.34 326.47,275.34 326.97,275.34 327.47,275.34 327.97,275.34 328.47,275.34 328.97,275.34 329.47,275.35 329.97,275.35 330.47,275.35 330.96,275.35 331.46,275.35 331.96,275.35 332.46,275.35 332.96,275.35 333.46,275.35 333.96,275.35 334.46,275.36 334.96,275.36 335.46,275.36 335.96,275.36 336.46,275.36 336.96,275.36 337.46,275.36 337.95,275.37 338.45,275.37 338.95,275.37 339.45,275.37 339.95,275.38 340.45,275.38 340.95,275.38 341.45,275.38 341.95,275.39 342.45,275.39 342.95,275.39 343.45,275.4 343.95,275.4 344.45,275.4 344.94,275.41 345.44,275.41 345.94,275.41 346.44,275.42 346.94,275.42 347.44,275.43 347.94,275.43 348.44,275.44 348.94,275.45 349.44,275.45 349.94,275.46 350.44,275.46 350.94,275.47 351.44,275.48 351.93,275.49 352.43,275.5 352.93,275.5 353.43,275.51 353.93,275.52 354.43,275.53 354.93,275.54 355.43,275.56 355.93,275.57 356.43,275.58 356.93,275.59 357.43,275.61 357.93,275.62 358.43,275.64 358.93,275.65 359.42,275.67 359.92,275.69 360.42,275.71 360.92,275.73 361.42,275.75 361.92,275.77 362.42,275.8 362.92,275.82 363.42,275.85 363.92,275.87 364.42,275.9 364.92,275.93 365.42,275.97 365.92,276 366.41,276.03 366.91,276.07 367.41,276.11 367.91,276.15 368.41,276.19 368.91,276.24 369.41,276.29 369.91,276.34 370.41,276.39 370.91,276.45 371.41,276.5 371.91,276.57 372.41,276.63 372.91,276.7 373.4,276.77 373.9,276.85 374.4,276.92 374.9,277.01 375.4,277.09 375.9,277.19 376.4,277.28 376.9,277.38 377.4,277.49 377.9,277.6 378.4,277.72 378.9,277.84 379.4,277.97 379.9,278.1 380.4,278.25 380.89,278.39 381.39,278.55 381.89,278.71 382.39,278.88 382.89,279.06 383.39,279.25 383.89,279.45 384.39,279.65 384.89,279.87 385.39,280.09 385.89,280.33 386.39,280.58 386.89,280.83 387.39,281.1 387.88,281.38 388.38,281.68 388.88,281.98 389.38,282.3 389.88,282.64 390.38,282.98 390.88,283.34 391.38,283.72 391.88,284.11 392.38,284.52 392.88,284.94 393.38,285.38 393.88,285.83 394.38,286.3 394.87,286.79 395.37,287.3 395.87,287.82 396.37,288.36 396.87,288.92 397.37,289.5 397.87,290.09 398.37,290.71 398.87,291.34 399.37,291.99 399.87,292.65 400.37,293.34 400.87,294.04 401.37,294.76 401.87,295.5 402.36,296.25 402.86,297.02 403.36,297.8 403.86,298.6 404.36,299.41 404.86,300.23 405.36,301.07 405.86,301.92 406.36,302.78 406.86,303.65 407.36,304.52 407.86,305.41 408.36,306.3 408.86,307.19 409.35,308.09 409.85,308.99 410.35,309.9 410.85,310.8 411.35,311.71 411.85,312.61 412.35,313.51 412.85,314.4 413.35,315.29 413.85,316.17 414.35,317.04 414.85,317.91 415.35,318.76 415.85,319.61 416.34,320.44 416.84,321.26 417.34,322.06 417.84,322.85 418.34,323.63 418.84,324.39 419.34,325.14 419.84,325.87 420.34,326.58 420.84,327.27 421.34,327.95 421.84,328.61 422.34,329.25 422.84,329.88 423.33,330.48 423.83,331.07 424.33,331.64 424.83,332.19 425.33,332.73 425.83,333.24 426.33,333.74 426.83,334.22 427.33,334.69 427.83,335.14 428.33,335.57 428.83,335.98 429.33,336.38 429.83,336.77 430.33,337.14 430.82,337.49 431.32,337.83 431.82,338.16 432.32,338.47 432.82,338.77 433.32,339.06 433.82,339.34 434.32,339.6 434.82,339.86 435.32,340.1 435.82,340.33 436.32,340.55 436.82,340.76 437.32,340.96 437.81,341.16 438.31,341.34 438.81,341.52 439.31,341.68 439.81,341.84 440.31,342 440.81,342.14 441.31,342.28 441.81,342.41 442.31,342.54 442.81,342.66 443.31,342.78 443.81,342.88 444.31,342.99 444.8,343.09 445.3,343.18 445.8,343.27 446.3,343.36 446.8,343.44 447.3,343.52 447.8,343.59 448.3,343.66" fill="none" stroke="#c8102e" stroke-width="1.3" stroke-linejoin="round"/>
<path d="M305.5 240.5V345H464.2" stroke="#111111" stroke-width="1.6" fill="none"/>
<path d="M302.5 345H305.5" stroke="#111111" stroke-width="1.2"/>
<text x="301.1" y="348.1" font-size="9.6" text-anchor="end" fill="#161616" stroke="#161616" stroke-width="0.22">0</text>
<path d="M302.5 310.17H305.5" stroke="#111111" stroke-width="1.2"/>
<text x="301.1" y="313.27" font-size="9.6" text-anchor="end" fill="#161616" stroke="#161616" stroke-width="0.22">50</text>
<path d="M302.5 275.33H305.5" stroke="#111111" stroke-width="1.2"/>
<text x="301.1" y="278.43" font-size="9.6" text-anchor="end" fill="#161616" stroke="#161616" stroke-width="0.22">100</text>
<path d="M302.5 240.5H305.5" stroke="#111111" stroke-width="1.2"/>
<text x="301.1" y="243.6" font-size="9.6" text-anchor="end" fill="#161616" stroke="#161616" stroke-width="0.22">150</text>
<path d="M305.75 345V348" stroke="#111111" stroke-width="1.2"/>
<text x="0" y="0" font-size="9.5" text-anchor="end" transform="translate(308.45,351) rotate(-90)" fill="#161616" stroke="#161616" stroke-width="0.22">0.1</text>
<path d="M358.55 345V348" stroke="#111111" stroke-width="1.2"/>
<text x="0" y="0" font-size="9.5" text-anchor="end" transform="translate(361.25,351) rotate(-90)" fill="#161616" stroke="#161616" stroke-width="0.22">1</text>
<path d="M411.35 345V348" stroke="#111111" stroke-width="1.2"/>
<text x="0" y="0" font-size="9.5" text-anchor="end" transform="translate(414.05,351) rotate(-90)" fill="#161616" stroke="#161616" stroke-width="0.22">10</text>
<path d="M464.15 345V348" stroke="#111111" stroke-width="1.2"/>
<text x="0" y="0" font-size="9.5" text-anchor="end" transform="translate(466.85,351) rotate(-90)" fill="#161616" stroke="#161616" stroke-width="0.22">100</text>
<text x="0" y="0" font-size="10" text-anchor="middle" font-weight="bold" textLength="49.3" lengthAdjust="spacingAndGlyphs" transform="translate(281.4,292.3) rotate(-90)" fill="#161616">% Cell viability</text>
<text x="353.5" y="380.4" font-size="11" text-anchor="start" font-weight="bold" textLength="63.5" lengthAdjust="spacingAndGlyphs" fill="#161616">Concentration (&#956;M)</text>
<rect x="393.4" y="267.3" width="4.2" height="4.2" fill="#0b4f8f"/>
<rect x="418.7" y="292.1" width="4.2" height="4.2" fill="#0b4f8f"/>
<rect x="424.7" y="310.2" width="4.2" height="4.2" fill="#0b4f8f"/>
<rect x="429.9" y="336.1" width="4.2" height="4.2" fill="#0b4f8f"/>
<rect x="446.2" y="342.9" width="4.2" height="4.2" fill="#0b4f8f"/>
<circle cx="305.5" cy="284.7" r="2.2" fill="#c8102e"/>
<circle cx="342.6" cy="284.7" r="2.2" fill="#c8102e"/>
<circle cx="358.5" cy="278" r="2.2" fill="#c8102e"/>
<circle cx="395.8" cy="287.8" r="2.2" fill="#c8102e"/>
<circle cx="421" cy="322.6" r="2.2" fill="#c8102e"/>
<circle cx="427" cy="333.8" r="2.2" fill="#c8102e"/>
<circle cx="432.5" cy="342.3" r="2.2" fill="#c8102e"/>
<circle cx="448.3" cy="345" r="2.2" fill="#c8102e"/>
<path d="M430.6 244H442.1" stroke="#c8102e" stroke-width="1.1" opacity="0.75"/>
<circle cx="436.35" cy="244" r="2.0" fill="#c8102e"/>
<path d="M430.6 269.8H442.1" stroke="#0b4f8f" stroke-width="1.1" opacity="0.75"/>
<rect x="434.35" y="267.8" width="4.0" height="4.0" fill="#0b4f8f"/>
<text x="448.5" y="246.3" font-size="8.8" text-anchor="start" fill="#161616">P95H/+</text>
<text x="448.5" y="256.9" font-size="8.8" text-anchor="start" textLength="46.9" lengthAdjust="spacingAndGlyphs" fill="#161616">IC50=9.9&#956;M</text>
<text x="448.5" y="271.9" font-size="8.8" text-anchor="start" fill="#161616">+/+</text>
<text x="448.5" y="281.9" font-size="8.8" text-anchor="start" textLength="56.5" lengthAdjust="spacingAndGlyphs" fill="#161616">IC50=18.51&#956;M</text>
<text x="76.5" y="427.2" font-size="9.9" text-anchor="start" font-weight="bold" textLength="67.7" lengthAdjust="spacingAndGlyphs" fill="#161616">Pladienolide B</text>
<polyline points="44,482.3 44.5,482.3 45,482.3 45.5,482.3 45.99,482.3 46.49,482.3 46.99,482.3 47.49,482.3 47.99,482.3 48.49,482.3 48.98,482.3 49.48,482.3 49.98,482.3 50.48,482.3 50.98,482.3 51.48,482.3 51.97,482.3 52.47,482.3 52.97,482.3 53.47,482.3 53.97,482.3 54.47,482.3 54.96,482.3 55.46,482.3 55.96,482.3 56.46,482.3 56.96,482.3 57.46,482.3 57.95,482.3 58.45,482.3 58.95,482.3 59.45,482.3 59.95,482.3 60.45,482.3 60.95,482.3 61.44,482.3 61.94,482.3 62.44,482.3 62.94,482.3 63.44,482.3 63.94,482.3 64.43,482.3 64.93,482.3 65.43,482.3 65.93,482.3 66.43,482.3 66.93,482.3 67.42,482.3 67.92,482.3 68.42,482.3 68.92,482.3 69.42,482.3 69.92,482.3 70.41,482.3 70.91,482.3 71.41,482.3 71.91,482.3 72.41,482.3 72.91,482.3 73.41,482.3 73.9,482.3 74.4,482.3 74.9,482.3 75.4,482.3 75.9,482.3 76.4,482.3 76.89,482.3 77.39,482.3 77.89,482.3 78.39,482.3 78.89,482.3 79.39,482.3 79.88,482.3 80.38,482.3 80.88,482.3 81.38,482.3 81.88,482.3 82.38,482.3 82.87,482.3 83.37,482.3 83.87,482.3 84.37,482.3 84.87,482.3 85.37,482.3 85.86,482.3 86.36,482.3 86.86,482.3 87.36,482.3 87.86,482.3 88.36,482.3 88.86,482.3 89.35,482.3 89.85,482.3 90.35,482.3 90.85,482.3 91.35,482.3 91.85,482.3 92.34,482.3 92.84,482.3 93.34,482.3 93.84,482.3 94.34,482.3 94.84,482.3 95.33,482.3 95.83,482.3 96.33,482.3 96.83,482.3 97.33,482.3 97.83,482.3 98.32,482.3 98.82,482.3 99.32,482.3 99.82,482.3 100.32,482.3 100.82,482.3 101.32,482.3 101.81,482.31 102.31,482.31 102.81,482.31 103.31,482.31 103.81,482.31 104.31,482.31 104.8,482.32 105.3,482.32 105.8,482.32 106.3,482.33 106.8,482.33 107.3,482.34 107.79,482.35 108.29,482.36 108.79,482.37 109.29,482.38 109.79,482.4 110.29,482.42 110.78,482.45 111.28,482.47 111.78,482.51 112.28,482.55 112.78,482.6 113.28,482.66 113.77,482.73 114.27,482.81 114.77,482.91 115.27,483.03 115.77,483.18 116.27,483.35 116.77,483.55 117.26,483.79 117.76,484.08 118.26,484.42 118.76,484.83 119.26,485.3 119.76,485.86 120.25,486.52 120.75,487.3 121.25,488.2 121.75,489.24 122.25,490.44 122.75,491.82 123.24,493.38 123.74,495.14 124.24,497.1 124.74,499.26 125.24,501.62 125.74,504.15 126.23,506.84 126.73,509.65 127.23,512.54 127.73,515.46 128.23,518.37 128.73,521.23 129.23,523.98 129.72,526.59 130.22,529.03 130.72,531.29 131.22,533.35 131.72,535.21 132.22,536.86 132.71,538.32 133.21,539.61 133.71,540.72 134.21,541.69 134.71,542.52 135.21,543.23 135.7,543.84 136.2,544.36 136.7,544.79 137.2,545.16 137.7,545.48 138.2,545.74 138.69,545.96 139.19,546.14 139.69,546.3 140.19,546.43 140.69,546.54 141.19,546.63 141.68,546.71 142.18,546.77 142.68,546.83 143.18,546.87 143.68,546.91 144.18,546.94 144.68,546.97 145.17,546.99 145.67,547.01 146.17,547.02 146.67,547.04 147.17,547.05 147.67,547.06 148.16,547.06 148.66,547.07 149.16,547.07 149.66,547.08 150.16,547.08 150.66,547.08 151.15,547.09 151.65,547.09 152.15,547.09 152.65,547.09 153.15,547.09 153.65,547.09 154.14,547.1 154.64,547.1 155.14,547.1 155.64,547.1 156.14,547.1 156.64,547.1 157.14,547.1 157.63,547.1 158.13,547.1 158.63,547.1 159.13,547.1 159.63,547.1 160.13,547.1 160.62,547.1 161.12,547.1 161.62,547.1 162.12,547.1 162.62,547.1 163.12,547.1 163.61,547.1 164.11,547.1 164.61,547.1 165.11,547.1 165.61,547.1 166.11,547.1 166.6,547.1 167.1,547.1 167.6,547.1 168.1,547.1 168.6,547.1 169.1,547.1 169.59,547.1 170.09,547.1 170.59,547.1 171.09,547.1 171.59,547.1 172.09,547.1 172.59,547.1 173.08,547.1 173.58,547.1 174.08,547.1 174.58,547.1 175.08,547.1 175.58,547.1 176.07,547.1 176.57,547.1 177.07,547.1 177.57,547.1 178.07,547.1 178.57,547.1 179.06,547.1 179.56,547.1 180.06,547.1 180.56,547.1 181.06,547.1 181.56,547.1 182.05,547.1 182.55,547.1 183.05,547.1 183.55,547.1 184.05,547.1 184.55,547.1 185.05,547.1 185.54,547.1 186.04,547.1 186.54,547.1 187.04,547.1 187.54,547.1 188.04,547.1 188.53,547.1 189.03,547.1 189.53,547.1 190.03,547.1 190.53,547.1 191.03,547.1 191.52,547.1 192.02,547.1 192.52,547.1 193.02,547.1 193.52,547.1 194.02,547.1 194.51,547.1 195.01,547.1 195.51,547.1 196.01,547.1 196.51,547.1 197.01,547.1 197.5,547.1 198,547.1 198.5,547.1 199,547.1" fill="none" stroke="#0b4f8f" stroke-width="1.3" stroke-linejoin="round"/>
<polyline points="44,482.68 44.5,482.68 45,482.68 45.5,482.69 45.99,482.69 46.49,482.7 46.99,482.7 47.49,482.7 47.99,482.71 48.49,482.72 48.98,482.72 49.48,482.73 49.98,482.73 50.48,482.74 50.98,482.75 51.48,482.75 51.97,482.76 52.47,482.77 52.97,482.78 53.47,482.78 53.97,482.79 54.47,482.8 54.96,482.81 55.46,482.82 55.96,482.83 56.46,482.85 56.96,482.86 57.46,482.87 57.95,482.88 58.45,482.9 58.95,482.91 59.45,482.93 59.95,482.94 60.45,482.96 60.95,482.97 61.44,482.99 61.94,483.01 62.44,483.03 62.94,483.05 63.44,483.07 63.94,483.1 64.43,483.12 64.93,483.15 65.43,483.17 65.93,483.2 66.43,483.23 66.93,483.26 67.42,483.29 67.92,483.32 68.42,483.36 68.92,483.39 69.42,483.43 69.92,483.47 70.41,483.51 70.91,483.56 71.41,483.6 71.91,483.65 72.41,483.7 72.91,483.75 73.41,483.81 73.9,483.86 74.4,483.92 74.9,483.99 75.4,484.05 75.9,484.12 76.4,484.19 76.89,484.27 77.39,484.34 77.89,484.43 78.39,484.51 78.89,484.6 79.39,484.69 79.88,484.79 80.38,484.89 80.88,485 81.38,485.11 81.88,485.23 82.38,485.35 82.87,485.48 83.37,485.61 83.87,485.74 84.37,485.89 84.87,486.04 85.37,486.19 85.86,486.36 86.36,486.53 86.86,486.7 87.36,486.89 87.86,487.08 88.36,487.28 88.86,487.48 89.35,487.7 89.85,487.92 90.35,488.16 90.85,488.4 91.35,488.65 91.85,488.91 92.34,489.18 92.84,489.46 93.34,489.75 93.84,490.05 94.34,490.36 94.84,490.69 95.33,491.02 95.83,491.37 96.33,491.72 96.83,492.09 97.33,492.47 97.83,492.87 98.32,493.27 98.82,493.69 99.32,494.12 99.82,494.56 100.32,495.01 100.82,495.48 101.32,495.96 101.81,496.45 102.31,496.95 102.81,497.47 103.31,497.99 103.81,498.53 104.31,499.09 104.8,499.65 105.3,500.22 105.8,500.81 106.3,501.4 106.8,502.01 107.3,502.63 107.79,503.25 108.29,503.89 108.79,504.53 109.29,505.18 109.79,505.84 110.29,506.5 110.78,507.18 111.28,507.85 111.78,508.53 112.28,509.22 112.78,509.91 113.28,510.61 113.77,511.3 114.27,512 114.77,512.7 115.27,513.4 115.77,514.1 116.27,514.8 116.77,515.49 117.26,516.19 117.76,516.88 118.26,517.57 118.76,518.25 119.26,518.93 119.76,519.6 120.25,520.27 120.75,520.93 121.25,521.59 121.75,522.23 122.25,522.87 122.75,523.5 123.24,524.13 123.74,524.74 124.24,525.34 124.74,525.94 125.24,526.52 125.74,527.1 126.23,527.66 126.73,528.22 127.23,528.76 127.73,529.29 128.23,529.81 128.73,530.32 129.23,530.82 129.72,531.31 130.22,531.79 130.72,532.25 131.22,532.71 131.72,533.15 132.22,533.59 132.71,534.01 133.21,534.42 133.71,534.82 134.21,535.21 134.71,535.59 135.21,535.96 135.7,536.32 136.2,536.67 136.7,537.01 137.2,537.34 137.7,537.66 138.2,537.97 138.69,538.27 139.19,538.56 139.69,538.85 140.19,539.12 140.69,539.39 141.19,539.65 141.68,539.9 142.18,540.14 142.68,540.38 143.18,540.61 143.68,540.83 144.18,541.04 144.68,541.25 145.17,541.45 145.67,541.64 146.17,541.83 146.67,542.01 147.17,542.19 147.67,542.36 148.16,542.52 148.66,542.68 149.16,542.83 149.66,542.98 150.16,543.12 150.66,543.26 151.15,543.4 151.65,543.53 152.15,543.65 152.65,543.77 153.15,543.89 153.65,544 154.14,544.11 154.64,544.21 155.14,544.32 155.64,544.41 156.14,544.51 156.64,544.6 157.14,544.69 157.63,544.77 158.13,544.86 158.63,544.93 159.13,545.01 159.63,545.08 160.13,545.16 160.62,545.23 161.12,545.29 161.62,545.36 162.12,545.42 162.62,545.48 163.12,545.53 163.61,545.59 164.11,545.64 164.61,545.7 165.11,545.75 165.61,545.79 166.11,545.84 166.6,545.88 167.1,545.93 167.6,545.97 168.1,546.01 168.6,546.05 169.1,546.09 169.59,546.12 170.09,546.16 170.59,546.19 171.09,546.22 171.59,546.25 172.09,546.28 172.59,546.31 173.08,546.34 173.58,546.37 174.08,546.39 174.58,546.42 175.08,546.44 175.58,546.47 176.07,546.49 176.57,546.51 177.07,546.53 177.57,546.55 178.07,546.57 178.57,546.59 179.06,546.61 179.56,546.63 180.06,546.64 180.56,546.66 181.06,546.68 181.56,546.69 182.05,546.71 182.55,546.72 183.05,546.73 183.55,546.75 184.05,546.76 184.55,546.77 185.05,546.78 185.54,546.79 186.04,546.81 186.54,546.82 187.04,546.83 187.54,546.84 188.04,546.85 188.53,546.85 189.03,546.86 189.53,546.87 190.03,546.88 190.53,546.89 191.03,546.9 191.52,546.9 192.02,546.91 192.52,546.92 193.02,546.92 193.52,546.93 194.02,546.94 194.51,546.94 195.01,546.95 195.51,546.95 196.01,546.96 196.51,546.96 197.01,546.97 197.5,546.97 198,546.98 198.5,546.98 199,546.99" fill="none" stroke="#c8102e" stroke-width="1.3" stroke-linejoin="round"/>
<path d="M44 471.6V487M41.7 471.6H46.3M41.7 487H46.3" stroke="#0b4f8f" stroke-width="1.1" fill="none" opacity="0.9"/>
<path d="M74.8 445.4V483.7M72.5 445.4H77.1M72.5 483.7H77.1" stroke="#0b4f8f" stroke-width="1.1" fill="none" opacity="0.9"/>
<path d="M97.9 465.2V479.4M95.6 465.2H100.2M95.6 479.4H100.2" stroke="#0b4f8f" stroke-width="1.1" fill="none" opacity="0.9"/>
<path d="M111.7 461.7V489.7M109.4 461.7H114M109.4 489.7H114" stroke="#0b4f8f" stroke-width="1.1" fill="none" opacity="0.9"/>
<path d="M121.7 469.1V505.9M119.4 469.1H124M119.4 505.9H124" stroke="#0b4f8f" stroke-width="1.1" fill="none" opacity="0.9"/>
<path d="M44 486.8V507.3M41.7 486.8H46.3M41.7 507.3H46.3" stroke="#c8102e" stroke-width="1.1" fill="none" opacity="0.9"/>
<path d="M74.8 484.4V496.5M72.5 484.4H77.1M72.5 496.5H77.1" stroke="#c8102e" stroke-width="1.1" fill="none" opacity="0.9"/>
<path d="M97.9 497.9V508M95.6 497.9H100.2M95.6 508H100.2" stroke="#c8102e" stroke-width="1.1" fill="none" opacity="0.9"/>
<path d="M111.7 489.7V515.7M109.4 489.7H114M109.4 515.7H114" stroke="#c8102e" stroke-width="1.1" fill="none" opacity="0.9"/>
<path d="M121.7 504V526.3M119.4 504H124M119.4 526.3H124" stroke="#c8102e" stroke-width="1.1" fill="none" opacity="0.9"/>
<path d="M44 444.3V547.1H199" stroke="#111111" stroke-width="1.6" fill="none"/>
<path d="M41 547.1H44" stroke="#111111" stroke-width="1.2"/>
<text x="37.8" y="550.2" font-size="9.6" text-anchor="end" fill="#161616" stroke="#161616" stroke-width="0.22">0</text>
<path d="M41 521.4H44" stroke="#111111" stroke-width="1.2"/>
<text x="37.8" y="524.5" font-size="9.6" text-anchor="end" fill="#161616" stroke="#161616" stroke-width="0.22">40</text>
<path d="M41 495.7H44" stroke="#111111" stroke-width="1.2"/>
<text x="37.8" y="498.8" font-size="9.6" text-anchor="end" fill="#161616" stroke="#161616" stroke-width="0.22">80</text>
<path d="M41 470H44" stroke="#111111" stroke-width="1.2"/>
<text x="37.8" y="473.1" font-size="9.6" text-anchor="end" fill="#161616" stroke="#161616" stroke-width="0.22">120</text>
<path d="M41 444.3H44" stroke="#111111" stroke-width="1.2"/>
<text x="37.8" y="447.4" font-size="9.6" text-anchor="end" fill="#161616" stroke="#161616" stroke-width="0.22">160</text>
<path d="M44 547.1V550.1" stroke="#111111" stroke-width="1.2"/>
<text x="0" y="0" font-size="9.5" text-anchor="end" transform="translate(46.5,553.1) rotate(-90)" fill="#161616" stroke="#161616" stroke-width="0.22">0.1</text>
<path d="M69.83 547.1V550.1" stroke="#111111" stroke-width="1.2"/>
<path d="M95.67 547.1V550.1" stroke="#111111" stroke-width="1.2"/>
<path d="M121.5 547.1V550.1" stroke="#111111" stroke-width="1.2"/>
<text x="0" y="0" font-size="9.5" text-anchor="end" transform="translate(124,553.1) rotate(-90)" fill="#161616" stroke="#161616" stroke-width="0.22">1</text>
<path d="M147.33 547.1V550.1" stroke="#111111" stroke-width="1.2"/>
<path d="M173.17 547.1V550.1" stroke="#111111" stroke-width="1.2"/>
<path d="M199 547.1V550.1" stroke="#111111" stroke-width="1.2"/>
<text x="0" y="0" font-size="9.5" text-anchor="end" transform="translate(201.5,553.1) rotate(-90)" fill="#161616" stroke="#161616" stroke-width="0.22">10</text>
<text x="0" y="0" font-size="10" text-anchor="middle" font-weight="bold" textLength="48.2" lengthAdjust="spacingAndGlyphs" transform="translate(18.2,494.3) rotate(-90)" fill="#161616">% Cell viability</text>
<text x="88.8" y="581.2" font-size="11" text-anchor="start" font-weight="bold" textLength="63.5" lengthAdjust="spacingAndGlyphs" fill="#161616">Concentration (nM)</text>
<rect x="41.9" y="477.2" width="4.2" height="4.2" fill="#0b4f8f"/>
<rect x="72.7" y="462.8" width="4.2" height="4.2" fill="#0b4f8f"/>
<rect x="95.8" y="470.2" width="4.2" height="4.2" fill="#0b4f8f"/>
<rect x="109.6" y="473.5" width="4.2" height="4.2" fill="#0b4f8f"/>
<rect x="119.6" y="485.8" width="4.2" height="4.2" fill="#0b4f8f"/>
<rect x="132.6" y="543.6" width="4.2" height="4.2" fill="#0b4f8f"/>
<rect x="142.7" y="544.9" width="4.2" height="4.2" fill="#0b4f8f"/>
<rect x="173.6" y="544.9" width="4.2" height="4.2" fill="#0b4f8f"/>
<rect x="196.9" y="544.9" width="4.2" height="4.2" fill="#0b4f8f"/>
<circle cx="44" cy="497.2" r="2.2" fill="#c8102e"/>
<circle cx="74.8" cy="490.9" r="2.2" fill="#c8102e"/>
<circle cx="97.9" cy="502.9" r="2.2" fill="#c8102e"/>
<circle cx="111.7" cy="503.1" r="2.2" fill="#c8102e"/>
<circle cx="121.7" cy="515.7" r="2.2" fill="#c8102e"/>
<circle cx="134.7" cy="547" r="2.2" fill="#c8102e"/>
<circle cx="144.8" cy="547" r="2.2" fill="#c8102e"/>
<circle cx="175.7" cy="547" r="2.2" fill="#c8102e"/>
<circle cx="199" cy="547" r="2.2" fill="#c8102e"/>
<path d="M179 440.7H190.4" stroke="#c8102e" stroke-width="1.1" opacity="0.75"/>
<circle cx="184.7" cy="440.7" r="2.0" fill="#c8102e"/>
<path d="M179 466H190.4" stroke="#0b4f8f" stroke-width="1.1" opacity="0.75"/>
<rect x="182.7" y="464" width="4.0" height="4.0" fill="#0b4f8f"/>
<text x="195.1" y="444.2" font-size="8.8" text-anchor="start" fill="#161616">P95H/+</text>
<text x="195.1" y="454.6" font-size="8.8" text-anchor="start" textLength="54.8" lengthAdjust="spacingAndGlyphs" fill="#161616">IC50=0.85nM</text>
<text x="195.1" y="468.1" font-size="8.8" text-anchor="start" fill="#161616">+/+</text>
<text x="195.1" y="478.4" font-size="8.8" text-anchor="start" textLength="53.6" lengthAdjust="spacingAndGlyphs" fill="#161616">IC50=1.19nM</text>
<text x="195.1" y="496.6" font-size="8.8" text-anchor="start" textLength="29.9" lengthAdjust="spacingAndGlyphs" fill="#161616"><tspan font-style="italic">P</tspan>&lt;.0.01</text>
<text x="340" y="426.9" font-size="9.9" text-anchor="start" font-weight="bold" textLength="67.2" lengthAdjust="spacingAndGlyphs" fill="#161616">Pladienolide B</text>
<polyline points="305.5,481 306,481 306.5,481 307,481 307.49,481 307.99,481 308.49,481 308.99,481 309.49,481 309.99,481 310.48,481 310.98,481 311.48,481 311.98,481 312.48,481 312.98,481 313.47,481 313.97,481 314.47,481 314.97,481 315.47,481 315.97,481 316.47,481 316.96,481 317.46,481 317.96,481 318.46,481 318.96,481 319.46,481 319.95,481 320.45,481 320.95,481 321.45,481 321.95,481 322.45,481 322.94,481 323.44,481 323.94,481 324.44,481 324.94,481 325.44,481 325.94,481 326.43,481 326.93,481 327.43,481 327.93,481 328.43,481 328.93,481 329.42,481 329.92,481 330.42,481 330.92,481 331.42,481 331.92,481 332.42,481 332.91,481 333.41,481 333.91,481 334.41,481 334.91,481 335.41,481 335.9,481 336.4,481 336.9,481 337.4,481 337.9,481 338.4,481 338.89,481 339.39,481 339.89,481 340.39,481 340.89,481 341.39,481 341.89,481 342.38,481 342.88,481 343.38,481 343.88,481 344.38,481 344.88,481 345.37,481 345.87,481 346.37,481 346.87,481 347.37,481 347.87,481 348.36,481 348.86,481 349.36,481 349.86,481 350.36,481 350.86,481 351.36,481 351.85,481 352.35,481 352.85,481 353.35,481 353.85,481 354.35,481 354.84,481 355.34,481 355.84,481 356.34,481 356.84,481 357.34,481 357.83,481 358.33,481 358.83,481 359.33,481 359.83,481.01 360.33,481.01 360.83,481.01 361.32,481.01 361.82,481.01 362.32,481.01 362.82,481.01 363.32,481.01 363.82,481.01 364.31,481.01 364.81,481.01 365.31,481.01 365.81,481.02 366.31,481.02 366.81,481.02 367.31,481.02 367.8,481.02 368.3,481.02 368.8,481.03 369.3,481.03 369.8,481.03 370.3,481.04 370.79,481.04 371.29,481.04 371.79,481.05 372.29,481.05 372.79,481.06 373.29,481.06 373.78,481.07 374.28,481.07 374.78,481.08 375.28,481.09 375.78,481.1 376.28,481.11 376.78,481.12 377.27,481.13 377.77,481.14 378.27,481.15 378.77,481.17 379.27,481.19 379.77,481.2 380.26,481.22 380.76,481.24 381.26,481.27 381.76,481.29 382.26,481.32 382.76,481.35 383.25,481.39 383.75,481.42 384.25,481.46 384.75,481.51 385.25,481.56 385.75,481.61 386.25,481.67 386.74,481.73 387.24,481.8 387.74,481.88 388.24,481.96 388.74,482.06 389.24,482.16 389.73,482.27 390.23,482.39 390.73,482.52 391.23,482.66 391.73,482.82 392.23,482.99 392.72,483.17 393.22,483.37 393.72,483.59 394.22,483.83 394.72,484.09 395.22,484.38 395.72,484.69 396.21,485.02 396.71,485.38 397.21,485.78 397.71,486.2 398.21,486.66 398.71,487.16 399.2,487.69 399.7,488.26 400.2,488.88 400.7,489.55 401.2,490.26 401.7,491.01 402.19,491.82 402.69,492.68 403.19,493.6 403.69,494.56 404.19,495.58 404.69,496.66 405.19,497.79 405.68,498.97 406.18,500.2 406.68,501.48 407.18,502.8 407.68,504.17 408.18,505.57 408.67,507.01 409.17,508.48 409.67,509.96 410.17,511.47 410.67,512.99 411.17,514.51 411.67,516.03 412.16,517.54 412.66,519.03 413.16,520.51 413.66,521.96 414.16,523.37 414.66,524.75 415.15,526.09 415.65,527.39 416.15,528.63 416.65,529.83 417.15,530.97 417.65,532.07 418.14,533.11 418.64,534.09 419.14,535.02 419.64,535.9 420.14,536.72 420.64,537.5 421.14,538.22 421.63,538.9 422.13,539.54 422.63,540.12 423.13,540.67 423.63,541.18 424.13,541.65 424.62,542.09 425.12,542.49 425.62,542.86 426.12,543.21 426.62,543.52 427.12,543.81 427.61,544.08 428.11,544.33 428.61,544.56 429.11,544.76 429.61,544.95 430.11,545.13 430.61,545.29 431.1,545.44 431.6,545.57 432.1,545.7 432.6,545.81 433.1,545.91 433.6,546.01 434.09,546.09 434.59,546.17 435.09,546.24 435.59,546.31 436.09,546.37 436.59,546.42 437.08,546.47 437.58,546.52 438.08,546.56 438.58,546.6 439.08,546.64 439.58,546.67 440.08,546.7 440.57,546.72 441.07,546.75 441.57,546.77 442.07,546.79 442.57,546.81 443.07,546.83 443.56,546.84 444.06,546.85 444.56,546.87 445.06,546.88 445.56,546.89 446.06,546.9 446.56,546.91 447.05,546.92 447.55,546.92 448.05,546.93 448.55,546.94 449.05,546.94 449.55,546.95 450.04,546.95 450.54,546.96 451.04,546.96 451.54,546.96 452.04,546.97 452.54,546.97 453.03,546.97 453.53,546.97 454.03,546.98 454.53,546.98 455.03,546.98 455.53,546.98 456.03,546.98 456.52,546.99 457.02,546.99 457.52,546.99 458.02,546.99 458.52,546.99 459.02,546.99 459.51,546.99 460.01,546.99 460.51,546.99 461.01,546.99 461.51,546.99 462.01,546.99 462.5,547 463,547 463.5,547 464,547" fill="none" stroke="#0b4f8f" stroke-width="1.3" stroke-linejoin="round"/>
<polyline points="305.5,481 306,481 306.5,481 307,481 307.49,481 307.99,481 308.49,481 308.99,481 309.49,481.01 309.99,481.01 310.48,481.01 310.98,481.01 311.48,481.01 311.98,481.01 312.48,481.01 312.98,481.01 313.47,481.01 313.97,481.01 314.47,481.01 314.97,481.01 315.47,481.01 315.97,481.01 316.47,481.01 316.96,481.02 317.46,481.02 317.96,481.02 318.46,481.02 318.96,481.02 319.46,481.02 319.95,481.02 320.45,481.02 320.95,481.03 321.45,481.03 321.95,481.03 322.45,481.03 322.94,481.04 323.44,481.04 323.94,481.04 324.44,481.04 324.94,481.05 325.44,481.05 325.94,481.05 326.43,481.06 326.93,481.06 327.43,481.07 327.93,481.07 328.43,481.08 328.93,481.08 329.42,481.09 329.92,481.09 330.42,481.1 330.92,481.11 331.42,481.12 331.92,481.13 332.42,481.14 332.91,481.15 333.41,481.16 333.91,481.17 334.41,481.18 334.91,481.19 335.41,481.21 335.9,481.22 336.4,481.24 336.9,481.26 337.4,481.27 337.9,481.29 338.4,481.32 338.89,481.34 339.39,481.36 339.89,481.39 340.39,481.42 340.89,481.45 341.39,481.48 341.89,481.52 342.38,481.55 342.88,481.59 343.38,481.64 343.88,481.68 344.38,481.73 344.88,481.79 345.37,481.84 345.87,481.9 346.37,481.97 346.87,482.04 347.37,482.11 347.87,482.19 348.36,482.28 348.86,482.37 349.36,482.47 349.86,482.57 350.36,482.69 350.86,482.81 351.36,482.94 351.85,483.07 352.35,483.22 352.85,483.38 353.35,483.54 353.85,483.72 354.35,483.91 354.84,484.12 355.34,484.34 355.84,484.57 356.34,484.81 356.84,485.08 357.34,485.35 357.83,485.65 358.33,485.97 358.83,486.3 359.33,486.66 359.83,487.03 360.33,487.43 360.83,487.86 361.32,488.3 361.82,488.78 362.32,489.27 362.82,489.8 363.32,490.35 363.82,490.94 364.31,491.55 364.81,492.19 365.31,492.87 365.81,493.57 366.31,494.31 366.81,495.07 367.31,495.87 367.8,496.71 368.3,497.57 368.8,498.46 369.3,499.39 369.8,500.34 370.3,501.32 370.79,502.33 371.29,503.36 371.79,504.42 372.29,505.5 372.79,506.6 373.29,507.72 373.78,508.85 374.28,510 374.78,511.15 375.28,512.31 375.78,513.48 376.28,514.65 376.78,515.81 377.27,516.98 377.77,518.13 378.27,519.27 378.77,520.41 379.27,521.52 379.77,522.62 380.26,523.7 380.76,524.75 381.26,525.78 381.76,526.79 382.26,527.77 382.76,528.72 383.25,529.64 383.75,530.53 384.25,531.39 384.75,532.22 385.25,533.01 385.75,533.78 386.25,534.51 386.74,535.21 387.24,535.88 387.74,536.52 388.24,537.13 388.74,537.71 389.24,538.26 389.73,538.78 390.23,539.28 390.73,539.75 391.23,540.19 391.73,540.61 392.23,541.01 392.72,541.38 393.22,541.74 393.72,542.07 394.22,542.38 394.72,542.68 395.22,542.95 395.72,543.22 396.21,543.46 396.71,543.69 397.21,543.91 397.71,544.11 398.21,544.3 398.71,544.47 399.2,544.64 399.7,544.8 400.2,544.94 400.7,545.08 401.2,545.21 401.7,545.33 402.19,545.44 402.69,545.54 403.19,545.64 403.69,545.73 404.19,545.82 404.69,545.9 405.19,545.97 405.68,546.04 406.18,546.1 406.68,546.16 407.18,546.22 407.68,546.27 408.18,546.32 408.67,546.37 409.17,546.41 409.67,546.45 410.17,546.49 410.67,546.52 411.17,546.56 411.67,546.59 412.16,546.61 412.66,546.64 413.16,546.66 413.66,546.69 414.16,546.71 414.66,546.73 415.15,546.75 415.65,546.76 416.15,546.78 416.65,546.8 417.15,546.81 417.65,546.82 418.14,546.83 418.64,546.85 419.14,546.86 419.64,546.87 420.14,546.88 420.64,546.88 421.14,546.89 421.63,546.9 422.13,546.91 422.63,546.91 423.13,546.92 423.63,546.92 424.13,546.93 424.62,546.93 425.12,546.94 425.62,546.94 426.12,546.95 426.62,546.95 427.12,546.95 427.61,546.96 428.11,546.96 428.61,546.96 429.11,546.97 429.61,546.97 430.11,546.97 430.61,546.97 431.1,546.97 431.6,546.98 432.1,546.98 432.6,546.98 433.1,546.98 433.6,546.98 434.09,546.98 434.59,546.98 435.09,546.99 435.59,546.99 436.09,546.99 436.59,546.99 437.08,546.99 437.58,546.99 438.08,546.99 438.58,546.99 439.08,546.99 439.58,546.99 440.08,546.99 440.57,546.99 441.07,546.99 441.57,546.99 442.07,546.99 442.57,546.99 443.07,547 443.56,547 444.06,547 444.56,547 445.06,547 445.56,547 446.06,547 446.56,547 447.05,547 447.55,547 448.05,547 448.55,547 449.05,547 449.55,547 450.04,547 450.54,547 451.04,547 451.54,547 452.04,547 452.54,547 453.03,547 453.53,547 454.03,547 454.53,547 455.03,547 455.53,547 456.03,547 456.52,547 457.02,547 457.52,547 458.02,547 458.52,547 459.02,547 459.51,547 460.01,547 460.51,547 461.01,547 461.51,547 462.01,547 462.5,547 463,547 463.5,547 464,547" fill="none" stroke="#c8102e" stroke-width="1.3" stroke-linejoin="round"/>
<path d="M305.5 442.5V547H464" stroke="#111111" stroke-width="1.6" fill="none"/>
<path d="M302.5 547H305.5" stroke="#111111" stroke-width="1.2"/>
<text x="301.1" y="550.1" font-size="9.6" text-anchor="end" fill="#161616" stroke="#161616" stroke-width="0.22">0</text>
<path d="M302.5 520.88H305.5" stroke="#111111" stroke-width="1.2"/>
<text x="301.1" y="523.98" font-size="9.6" text-anchor="end" fill="#161616" stroke="#161616" stroke-width="0.22">40</text>
<path d="M302.5 494.75H305.5" stroke="#111111" stroke-width="1.2"/>
<text x="301.1" y="497.85" font-size="9.6" text-anchor="end" fill="#161616" stroke="#161616" stroke-width="0.22">80</text>
<path d="M302.5 468.62H305.5" stroke="#111111" stroke-width="1.2"/>
<text x="301.1" y="471.73" font-size="9.6" text-anchor="end" fill="#161616" stroke="#161616" stroke-width="0.22">120</text>
<path d="M302.5 442.5H305.5" stroke="#111111" stroke-width="1.2"/>
<text x="301.1" y="445.6" font-size="9.6" text-anchor="end" fill="#161616" stroke="#161616" stroke-width="0.22">160</text>
<path d="M305.7 547V550" stroke="#111111" stroke-width="1.2"/>
<text x="0" y="0" font-size="9.5" text-anchor="end" transform="translate(309.1,553) rotate(-90)" fill="#161616" stroke="#161616" stroke-width="0.22">0.1</text>
<path d="M345.3 547V550" stroke="#111111" stroke-width="1.2"/>
<path d="M384.3 547V550" stroke="#111111" stroke-width="1.2"/>
<text x="0" y="0" font-size="9.5" text-anchor="end" transform="translate(387.7,553) rotate(-90)" fill="#161616" stroke="#161616" stroke-width="0.22">1</text>
<path d="M424 547V550" stroke="#111111" stroke-width="1.2"/>
<text x="0" y="0" font-size="9.5" text-anchor="end" transform="translate(427.4,553) rotate(-90)" fill="#161616" stroke="#161616" stroke-width="0.22">10</text>
<path d="M464 547V550" stroke="#111111" stroke-width="1.2"/>
<text x="0" y="0" font-size="9.5" text-anchor="end" transform="translate(467.4,553) rotate(-90)" fill="#161616" stroke="#161616" stroke-width="0.22">100</text>
<text x="0" y="0" font-size="10" text-anchor="middle" font-weight="bold" textLength="48.8" lengthAdjust="spacingAndGlyphs" transform="translate(281.4,494.3) rotate(-90)" fill="#161616">% Cell viability</text>
<text x="353.5" y="581.2" font-size="11" text-anchor="start" font-weight="bold" textLength="63.5" lengthAdjust="spacingAndGlyphs" fill="#161616">Concentration (nM)</text>
<rect x="303.4" y="469.65" width="4.2" height="4.2" fill="#0b4f8f"/>
<rect x="334.65" y="452.4" width="4.2" height="4.2" fill="#0b4f8f"/>
<rect x="358.9" y="467.15" width="4.2" height="4.2" fill="#0b4f8f"/>
<rect x="372.9" y="478.5" width="4.2" height="4.2" fill="#0b4f8f"/>
<rect x="382.5" y="479.8" width="4.2" height="4.2" fill="#0b4f8f"/>
<rect x="396.4" y="483.9" width="4.2" height="4.2" fill="#0b4f8f"/>
<rect x="406.6" y="503.5" width="4.2" height="4.2" fill="#0b4f8f"/>
<rect x="437.7" y="540.6" width="4.2" height="4.2" fill="#0b4f8f"/>
<rect x="461.9" y="543.9" width="4.2" height="4.2" fill="#0b4f8f"/>
<circle cx="305.5" cy="480.75" r="2.2" fill="#c8102e"/>
<circle cx="336.75" cy="468.25" r="2.2" fill="#c8102e"/>
<circle cx="361" cy="479.6" r="2.2" fill="#c8102e"/>
<circle cx="374.6" cy="521.9" r="2.2" fill="#c8102e"/>
<circle cx="384.6" cy="524.2" r="2.2" fill="#c8102e"/>
<circle cx="398.7" cy="543.1" r="2.2" fill="#c8102e"/>
<circle cx="408.3" cy="546.3" r="2.2" fill="#c8102e"/>
<circle cx="439.8" cy="546.9" r="2.2" fill="#c8102e"/>
<circle cx="464" cy="547" r="2.2" fill="#c8102e"/>
<path d="M438.7 438.1H450.2" stroke="#c8102e" stroke-width="1.1" opacity="0.75"/>
<circle cx="444.45" cy="438.1" r="2.0" fill="#c8102e"/>
<path d="M438.7 463.7H450.2" stroke="#0b4f8f" stroke-width="1.1" opacity="0.75"/>
<rect x="442.45" y="461.7" width="4.0" height="4.0" fill="#0b4f8f"/>
<text x="456.8" y="440.7" font-size="8.8" text-anchor="start" fill="#161616">P95H/+</text>
<text x="456.8" y="451.6" font-size="8.8" text-anchor="start" textLength="53.1" lengthAdjust="spacingAndGlyphs" fill="#161616">IC50=0.77nM</text>
<text x="456.8" y="466" font-size="8.8" text-anchor="start" fill="#161616">+/+</text>
<text x="456.8" y="476.4" font-size="8.8" text-anchor="start" textLength="53.6" lengthAdjust="spacingAndGlyphs" fill="#161616">IC50=2.18nM</text>
<path d="M0.5 0V593M0 0.5H520" stroke="#000" stroke-width="1"/>
<path d="M1.5 1V591M1 1.5H518" stroke="#000" stroke-width="1" opacity="0.2"/>
<rect x="518" y="0" width="2" height="593" fill="#000"/>
<rect x="0" y="591" width="520" height="2" fill="#000"/>
</svg>
</body></html>
